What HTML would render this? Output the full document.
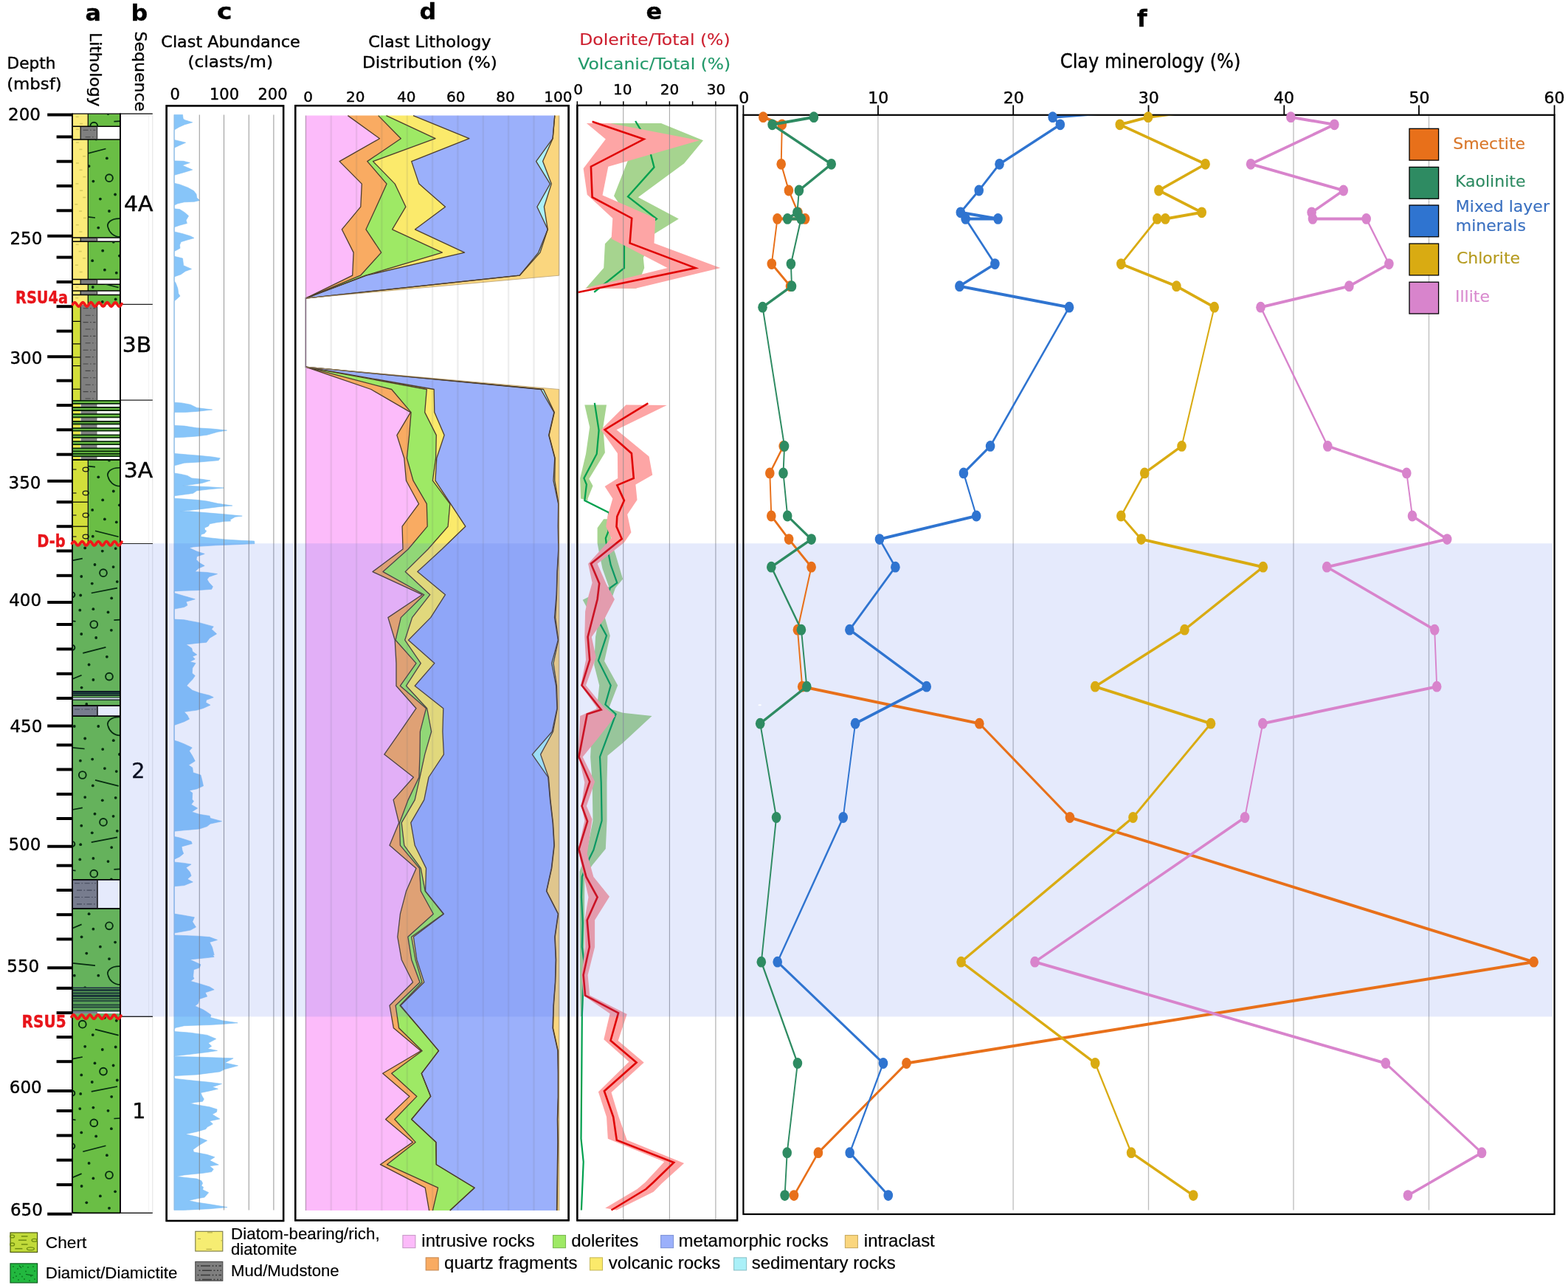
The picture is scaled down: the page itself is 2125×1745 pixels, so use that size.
<!DOCTYPE html>
<html lang="en"><head><meta charset="utf-8"><title>Core log: lithology, clast abundance and clay mineralogy</title>
<style>html,body{margin:0;padding:0;background:#fff}svg{display:block;color:#000}text{font-family:"DejaVu Sans","Liberation Sans",sans-serif;fill:currentColor;stroke:currentColor;stroke-width:.4px;stroke-linejoin:round}.ar{font-family:"Liberation Sans",sans-serif;stroke-width:.2px}</style></head><body>
<svg width="2125" height="1745" viewBox="0 0 2125 1745">
<rect width="2125" height="1745" fill="#fff"/>
<g id="litho">
<rect x="98.0" y="155.4" width="65.0" height="1487.6" fill="#fff" />
<rect x="119.3" y="154.3" width="43.7" height="17.0" fill="#6abe45" />
<rect x="119.3" y="189.1" width="43.7" height="132.8" fill="#6abe45" />
<rect x="119.3" y="327.3" width="43.7" height="51.3" fill="#6abe45" />
<rect x="119.3" y="385.3" width="43.7" height="8.7" fill="#6abe45" />
<rect x="119.3" y="399.6" width="43.7" height="13.2" fill="#6abe45" />
<rect x="119.3" y="623.0" width="43.7" height="113.5" fill="#6abe45" />
<rect x="98.0" y="736.5" width="65.0" height="199.7" fill="#6abe45" />
<rect x="98.0" y="948.0" width="65.0" height="8.0" fill="#6abe45" />
<rect x="98.0" y="970.2" width="65.0" height="221.5" fill="#6abe45" />
<rect x="98.0" y="1231.1" width="65.0" height="106.4" fill="#6abe45" />
<rect x="98.0" y="1373.0" width="65.0" height="270.0" fill="#6abe45" />
<rect x="98.0" y="154.3" width="21.3" height="17.0" fill="#fbeb79" />
<line x1="102.6" y1="158.3" x2="106.6" y2="158.3" stroke="#cfc45a" stroke-width="1.6" opacity="0.8"/><line x1="108.1" y1="167.6" x2="112.1" y2="167.6" stroke="#cfc45a" stroke-width="1.6" opacity="0.8"/>
<rect x="98.0" y="171.3" width="10.8" height="17.8" fill="#fbeb79" />
<line x1="102.9" y1="175.3" x2="106.9" y2="175.3" stroke="#cfc45a" stroke-width="1.6" opacity="0.8"/>
<rect x="98.0" y="189.1" width="21.3" height="132.8" fill="#fbeb79" />
<line x1="102.9" y1="193.1" x2="106.9" y2="193.1" stroke="#cfc45a" stroke-width="1.6" opacity="0.8"/><line x1="107.4" y1="202.4" x2="111.4" y2="202.4" stroke="#cfc45a" stroke-width="1.6" opacity="0.8"/><line x1="112.1" y1="211.7" x2="116.1" y2="211.7" stroke="#cfc45a" stroke-width="1.6" opacity="0.8"/><line x1="102.9" y1="221.0" x2="106.9" y2="221.0" stroke="#cfc45a" stroke-width="1.6" opacity="0.8"/><line x1="107.6" y1="230.3" x2="111.6" y2="230.3" stroke="#cfc45a" stroke-width="1.6" opacity="0.8"/><line x1="112.4" y1="239.6" x2="116.4" y2="239.6" stroke="#cfc45a" stroke-width="1.6" opacity="0.8"/><line x1="102.5" y1="248.9" x2="106.5" y2="248.9" stroke="#cfc45a" stroke-width="1.6" opacity="0.8"/><line x1="108.1" y1="258.2" x2="112.1" y2="258.2" stroke="#cfc45a" stroke-width="1.6" opacity="0.8"/><line x1="112.3" y1="267.5" x2="116.3" y2="267.5" stroke="#cfc45a" stroke-width="1.6" opacity="0.8"/><line x1="101.3" y1="276.8" x2="105.3" y2="276.8" stroke="#cfc45a" stroke-width="1.6" opacity="0.8"/><line x1="107.1" y1="286.1" x2="111.1" y2="286.1" stroke="#cfc45a" stroke-width="1.6" opacity="0.8"/><line x1="113.0" y1="295.4" x2="117.0" y2="295.4" stroke="#cfc45a" stroke-width="1.6" opacity="0.8"/><line x1="102.8" y1="304.7" x2="106.8" y2="304.7" stroke="#cfc45a" stroke-width="1.6" opacity="0.8"/><line x1="107.4" y1="314.0" x2="111.4" y2="314.0" stroke="#cfc45a" stroke-width="1.6" opacity="0.8"/>
<rect x="98.0" y="321.9" width="10.8" height="5.4" fill="#fbeb79" />
<rect x="98.0" y="327.3" width="21.3" height="51.3" fill="#fbeb79" />
<line x1="102.7" y1="331.3" x2="106.7" y2="331.3" stroke="#cfc45a" stroke-width="1.6" opacity="0.8"/><line x1="106.7" y1="340.6" x2="110.7" y2="340.6" stroke="#cfc45a" stroke-width="1.6" opacity="0.8"/><line x1="112.1" y1="349.9" x2="116.1" y2="349.9" stroke="#cfc45a" stroke-width="1.6" opacity="0.8"/><line x1="101.9" y1="359.2" x2="105.9" y2="359.2" stroke="#cfc45a" stroke-width="1.6" opacity="0.8"/><line x1="107.7" y1="368.5" x2="111.7" y2="368.5" stroke="#cfc45a" stroke-width="1.6" opacity="0.8"/>
<rect x="98.0" y="378.6" width="10.8" height="6.7" fill="#fbeb79" />
<rect x="98.0" y="385.3" width="21.3" height="8.7" fill="#fbeb79" />
<line x1="102.5" y1="389.3" x2="106.5" y2="389.3" stroke="#cfc45a" stroke-width="1.6" opacity="0.8"/>
<rect x="98.0" y="394.0" width="10.8" height="5.6" fill="#fbeb79" />
<rect x="98.0" y="399.6" width="21.3" height="13.2" fill="#fbeb79" />
<line x1="102.2" y1="403.6" x2="106.2" y2="403.6" stroke="#cfc45a" stroke-width="1.6" opacity="0.8"/>
<rect x="98.0" y="412.8" width="10.8" height="129.6" fill="#d3df3a" />
<rect x="98.0" y="623.0" width="20.8" height="113.5" fill="#d3df3a" />
<rect x="109.6" y="171.3" width="22.0" height="17.8" fill="#7f7f7f" />
<line x1="112.6" y1="176.3" x2="129.6" y2="176.3" stroke="#3c3c3c" stroke-width="1.1" stroke-dasharray="7 2.5 1.6 2.5" opacity="0.85"/><line x1="115.6" y1="185.7" x2="129.6" y2="185.7" stroke="#3c3c3c" stroke-width="1.1" stroke-dasharray="7 2.5 1.6 2.5" opacity="0.85"/>
<rect x="109.6" y="321.9" width="22.0" height="5.4" fill="#7f7f7f" />
<rect x="109.6" y="378.6" width="22.0" height="6.7" fill="#7f7f7f" />
<rect x="109.6" y="394.0" width="22.0" height="5.6" fill="#7f7f7f" />
<rect x="109.6" y="412.8" width="22.0" height="129.6" fill="#7f7f7f" />
<line x1="112.6" y1="417.8" x2="129.6" y2="417.8" stroke="#3c3c3c" stroke-width="1.1" stroke-dasharray="7 2.5 1.6 2.5" opacity="0.85"/><line x1="115.6" y1="427.2" x2="129.6" y2="427.2" stroke="#3c3c3c" stroke-width="1.1" stroke-dasharray="7 2.5 1.6 2.5" opacity="0.85"/><line x1="112.6" y1="436.6" x2="129.6" y2="436.6" stroke="#3c3c3c" stroke-width="1.1" stroke-dasharray="7 2.5 1.6 2.5" opacity="0.85"/><line x1="115.6" y1="446.0" x2="129.6" y2="446.0" stroke="#3c3c3c" stroke-width="1.1" stroke-dasharray="7 2.5 1.6 2.5" opacity="0.85"/><line x1="112.6" y1="455.4" x2="129.6" y2="455.4" stroke="#3c3c3c" stroke-width="1.1" stroke-dasharray="7 2.5 1.6 2.5" opacity="0.85"/><line x1="115.6" y1="464.8" x2="129.6" y2="464.8" stroke="#3c3c3c" stroke-width="1.1" stroke-dasharray="7 2.5 1.6 2.5" opacity="0.85"/><line x1="112.6" y1="474.2" x2="129.6" y2="474.2" stroke="#3c3c3c" stroke-width="1.1" stroke-dasharray="7 2.5 1.6 2.5" opacity="0.85"/><line x1="115.6" y1="483.6" x2="129.6" y2="483.6" stroke="#3c3c3c" stroke-width="1.1" stroke-dasharray="7 2.5 1.6 2.5" opacity="0.85"/><line x1="112.6" y1="493.0" x2="129.6" y2="493.0" stroke="#3c3c3c" stroke-width="1.1" stroke-dasharray="7 2.5 1.6 2.5" opacity="0.85"/><line x1="115.6" y1="502.4" x2="129.6" y2="502.4" stroke="#3c3c3c" stroke-width="1.1" stroke-dasharray="7 2.5 1.6 2.5" opacity="0.85"/><line x1="112.6" y1="511.8" x2="129.6" y2="511.8" stroke="#3c3c3c" stroke-width="1.1" stroke-dasharray="7 2.5 1.6 2.5" opacity="0.85"/><line x1="115.6" y1="521.2" x2="129.6" y2="521.2" stroke="#3c3c3c" stroke-width="1.1" stroke-dasharray="7 2.5 1.6 2.5" opacity="0.85"/><line x1="112.6" y1="530.6" x2="129.6" y2="530.6" stroke="#3c3c3c" stroke-width="1.1" stroke-dasharray="7 2.5 1.6 2.5" opacity="0.85"/><line x1="115.6" y1="540.0" x2="129.6" y2="540.0" stroke="#3c3c3c" stroke-width="1.1" stroke-dasharray="7 2.5 1.6 2.5" opacity="0.85"/>
<rect x="98.0" y="956.0" width="34.0" height="14.2" fill="#7f7f7f" />
<line x1="101.0" y1="961.0" x2="130.0" y2="961.0" stroke="#3c3c3c" stroke-width="1.1" stroke-dasharray="7 2.5 1.6 2.5" opacity="0.85"/>
<rect x="98.0" y="1191.7" width="34.0" height="39.4" fill="#7f7f7f" />
<line x1="101.0" y1="1196.7" x2="130.0" y2="1196.7" stroke="#3c3c3c" stroke-width="1.1" stroke-dasharray="7 2.5 1.6 2.5" opacity="0.85"/><line x1="104.0" y1="1206.1" x2="130.0" y2="1206.1" stroke="#3c3c3c" stroke-width="1.1" stroke-dasharray="7 2.5 1.6 2.5" opacity="0.85"/><line x1="101.0" y1="1215.5" x2="130.0" y2="1215.5" stroke="#3c3c3c" stroke-width="1.1" stroke-dasharray="7 2.5 1.6 2.5" opacity="0.85"/><line x1="104.0" y1="1224.9" x2="130.0" y2="1224.9" stroke="#3c3c3c" stroke-width="1.1" stroke-dasharray="7 2.5 1.6 2.5" opacity="0.85"/>
<clipPath id="gclip"><rect x="119.3" y="154.3" width="43.7" height="17.0"/><rect x="119.3" y="189.1" width="43.7" height="132.8"/><rect x="119.3" y="327.3" width="43.7" height="51.3"/><rect x="119.3" y="385.3" width="43.7" height="8.7"/><rect x="119.3" y="399.6" width="43.7" height="13.2"/><rect x="119.3" y="623.0" width="43.7" height="113.5"/><rect x="98.0" y="736.5" width="65.0" height="199.7"/><rect x="98.0" y="948.0" width="65.0" height="8.0"/><rect x="98.0" y="970.2" width="65.0" height="221.5"/><rect x="98.0" y="1231.1" width="65.0" height="106.4"/><rect x="98.0" y="1373.0" width="65.0" height="270.0"/></clipPath>
<rect x="98.0" y="542.4" width="65.0" height="80.6" fill="#6abe45" />
<rect x="98.0" y="546.8" width="65.0" height="5.2" fill="#fff" />
<rect x="98.0" y="546.8" width="10.8" height="5.2" fill="#e6e54a" />
<rect x="109.6" y="546.8" width="22.0" height="5.2" fill="#7f7f7f" />
<rect x="98.0" y="556.0" width="65.0" height="5.2" fill="#fff" />
<rect x="98.0" y="556.0" width="10.8" height="5.2" fill="#e6e54a" />
<rect x="109.6" y="556.0" width="22.0" height="5.2" fill="#7f7f7f" />
<rect x="98.0" y="565.3" width="65.0" height="5.7" fill="#fff" />
<rect x="98.0" y="565.3" width="10.8" height="5.7" fill="#e6e54a" />
<rect x="109.6" y="565.3" width="22.0" height="5.7" fill="#7f7f7f" />
<rect x="98.0" y="574.5" width="65.0" height="5.7" fill="#fff" />
<rect x="98.0" y="574.5" width="10.8" height="5.7" fill="#e6e54a" />
<rect x="109.6" y="574.5" width="22.0" height="5.7" fill="#7f7f7f" />
<rect x="98.0" y="583.7" width="65.0" height="5.7" fill="#fff" />
<rect x="98.0" y="583.7" width="10.8" height="5.7" fill="#e6e54a" />
<rect x="109.6" y="583.7" width="22.0" height="5.7" fill="#7f7f7f" />
<rect x="98.0" y="592.9" width="65.0" height="5.2" fill="#fff" />
<rect x="98.0" y="592.9" width="10.8" height="5.2" fill="#e6e54a" />
<rect x="109.6" y="592.9" width="22.0" height="5.2" fill="#7f7f7f" />
<rect x="98.0" y="602.1" width="65.0" height="5.2" fill="#fff" />
<rect x="98.0" y="602.1" width="10.8" height="5.2" fill="#e6e54a" />
<rect x="109.6" y="602.1" width="22.0" height="5.2" fill="#7f7f7f" />
<rect x="98.0" y="618.2" width="65.0" height="4.7" fill="#fff" />
<rect x="98.0" y="618.2" width="10.8" height="4.7" fill="#e6e54a" />
<rect x="109.6" y="618.2" width="22.0" height="4.7" fill="#7f7f7f" />
<line x1="98.0" y1="542.8" x2="163.0" y2="542.8" stroke="#0a2a0a" stroke-width="1.8"/>
<line x1="98.0" y1="546.8" x2="163.0" y2="546.8" stroke="#0a2a0a" stroke-width="1.8"/>
<line x1="98.0" y1="552.0" x2="163.0" y2="552.0" stroke="#0a2a0a" stroke-width="1.8"/>
<line x1="98.0" y1="556.0" x2="163.0" y2="556.0" stroke="#0a2a0a" stroke-width="1.8"/>
<line x1="98.0" y1="561.2" x2="163.0" y2="561.2" stroke="#0a2a0a" stroke-width="1.8"/>
<line x1="98.0" y1="565.3" x2="163.0" y2="565.3" stroke="#0a2a0a" stroke-width="1.8"/>
<line x1="98.0" y1="571.0" x2="163.0" y2="571.0" stroke="#0a2a0a" stroke-width="1.8"/>
<line x1="98.0" y1="574.5" x2="163.0" y2="574.5" stroke="#0a2a0a" stroke-width="1.8"/>
<line x1="98.0" y1="580.2" x2="163.0" y2="580.2" stroke="#0a2a0a" stroke-width="1.8"/>
<line x1="98.0" y1="583.7" x2="163.0" y2="583.7" stroke="#0a2a0a" stroke-width="1.8"/>
<line x1="98.0" y1="589.4" x2="163.0" y2="589.4" stroke="#0a2a0a" stroke-width="1.8"/>
<line x1="98.0" y1="592.9" x2="163.0" y2="592.9" stroke="#0a2a0a" stroke-width="1.8"/>
<line x1="98.0" y1="598.1" x2="163.0" y2="598.1" stroke="#0a2a0a" stroke-width="1.8"/>
<line x1="98.0" y1="602.1" x2="163.0" y2="602.1" stroke="#0a2a0a" stroke-width="1.8"/>
<line x1="98.0" y1="607.3" x2="163.0" y2="607.3" stroke="#0a2a0a" stroke-width="1.8"/>
<line x1="98.0" y1="611.3" x2="163.0" y2="611.3" stroke="#0a2a0a" stroke-width="1.8"/>
<line x1="98.0" y1="614.8" x2="163.0" y2="614.8" stroke="#0a2a0a" stroke-width="1.8"/>
<line x1="98.0" y1="618.2" x2="163.0" y2="618.2" stroke="#0a2a0a" stroke-width="1.8"/>
<line x1="98.0" y1="622.9" x2="163.0" y2="622.9" stroke="#0a2a0a" stroke-width="1.8"/>
<rect x="98.0" y="936.2" width="65.0" height="12.0" fill="#6abe45" />
<rect x="98.0" y="937.0" width="65.0" height="4.4" fill="#12301a" />
<line x1="98.0" y1="936.6" x2="163.0" y2="936.6" stroke="#000" stroke-width="1.3"/>
<line x1="98.0" y1="942.3" x2="163.0" y2="942.3" stroke="#000" stroke-width="1.3"/>
<line x1="98.0" y1="945.4" x2="163.0" y2="945.4" stroke="#000" stroke-width="1.2"/>
<rect x="98.0" y="945.6" width="65.0" height="2.2" fill="#fff" />
<line x1="98.0" y1="948.2" x2="163.0" y2="948.2" stroke="#000" stroke-width="1.3"/>
<line x1="98.0" y1="956.0" x2="163.0" y2="956.0" stroke="#000" stroke-width="1.5"/>
<line x1="98.0" y1="970.2" x2="163.0" y2="970.2" stroke="#000" stroke-width="1.5"/>
<rect x="98.0" y="1337.5" width="65.0" height="35.5" fill="#5aa53e" />
<line x1="98.0" y1="1338.3" x2="163.0" y2="1338.3" stroke="#10281a" stroke-width="1.6"/>
<line x1="98.0" y1="1341.5" x2="163.0" y2="1341.5" stroke="#10281a" stroke-width="2.5"/>
<line x1="98.0" y1="1345.5" x2="163.0" y2="1345.5" stroke="#10281a" stroke-width="2.2"/>
<line x1="98.0" y1="1349.3" x2="163.0" y2="1349.3" stroke="#10281a" stroke-width="3"/>
<line x1="98.0" y1="1353.0" x2="163.0" y2="1353.0" stroke="#10281a" stroke-width="1.4"/>
<line x1="98.0" y1="1356.0" x2="163.0" y2="1356.0" stroke="#10281a" stroke-width="1.4"/>
<line x1="98.0" y1="1361.5" x2="163.0" y2="1361.5" stroke="#10281a" stroke-width="1.6"/>
<line x1="98.0" y1="1364.5" x2="163.0" y2="1364.5" stroke="#10281a" stroke-width="1.4"/>
<line x1="98.0" y1="1369.8" x2="163.0" y2="1369.8" stroke="#10281a" stroke-width="1.6"/>
<rect x="98.0" y="1370.6" width="65.0" height="2.6" fill="#fff" />
<rect x="98.0" y="1370.6" width="34.0" height="2.6" fill="#7f7f7f" />
<line x1="98.0" y1="171.3" x2="163.0" y2="171.3" stroke="#000" stroke-width="1.5"/>
<line x1="98.0" y1="189.1" x2="163.0" y2="189.1" stroke="#000" stroke-width="1.5"/>
<line x1="98.0" y1="321.9" x2="163.0" y2="321.9" stroke="#000" stroke-width="1.5"/>
<line x1="98.0" y1="327.3" x2="163.0" y2="327.3" stroke="#000" stroke-width="1.5"/>
<line x1="98.0" y1="378.6" x2="163.0" y2="378.6" stroke="#000" stroke-width="1.5"/>
<line x1="98.0" y1="385.3" x2="163.0" y2="385.3" stroke="#000" stroke-width="1.5"/>
<line x1="98.0" y1="394.0" x2="163.0" y2="394.0" stroke="#000" stroke-width="1.5"/>
<line x1="98.0" y1="399.6" x2="163.0" y2="399.6" stroke="#000" stroke-width="1.5"/>
<line x1="98.0" y1="1191.7" x2="163.0" y2="1191.7" stroke="#000" stroke-width="1.5"/>
<line x1="98.0" y1="1231.1" x2="163.0" y2="1231.1" stroke="#000" stroke-width="1.5"/>
<line x1="98.0" y1="623.0" x2="163.0" y2="623.0" stroke="#000" stroke-width="1.5"/>
<line x1="98.0" y1="435.4" x2="108.8" y2="435.4" stroke="#000" stroke-width="1.2"/>
<line x1="98.0" y1="465.9" x2="108.8" y2="465.9" stroke="#000" stroke-width="1.2"/>
<line x1="98.0" y1="484.0" x2="108.8" y2="484.0" stroke="#000" stroke-width="1.2"/>
<line x1="98.0" y1="495.6" x2="108.8" y2="495.6" stroke="#000" stroke-width="1.2"/>
<line x1="98.0" y1="527.2" x2="108.8" y2="527.2" stroke="#000" stroke-width="1.2"/>
<line x1="98.0" y1="680.2" x2="118.8" y2="680.2" stroke="#000" stroke-width="1.2"/>
<line x1="98.0" y1="713.2" x2="118.8" y2="713.2" stroke="#000" stroke-width="1.2"/>
<ellipse cx="116.2" cy="636" rx="4" ry="2.8" fill="none" stroke="#1a1a1a" stroke-width="1.2"/>
<line x1="98.5" y1="636" x2="103.5" y2="636" stroke="#1a1a1a" stroke-width="1.2"/>
<ellipse cx="116.2" cy="668" rx="4" ry="2.8" fill="none" stroke="#1a1a1a" stroke-width="1.2"/>
<line x1="98.5" y1="668" x2="103.5" y2="668" stroke="#1a1a1a" stroke-width="1.2"/>
<ellipse cx="116.2" cy="698" rx="4" ry="2.8" fill="none" stroke="#1a1a1a" stroke-width="1.2"/>
<line x1="98.5" y1="698" x2="103.5" y2="698" stroke="#1a1a1a" stroke-width="1.2"/>
<ellipse cx="116.2" cy="727" rx="4" ry="2.8" fill="none" stroke="#1a1a1a" stroke-width="1.2"/>
<line x1="98.5" y1="727" x2="103.5" y2="727" stroke="#1a1a1a" stroke-width="1.2"/>
<line x1="119.3" y1="154.3" x2="119.3" y2="171.3" stroke="#000" stroke-width="1.2"/>
<line x1="119.3" y1="189.1" x2="119.3" y2="321.9" stroke="#000" stroke-width="1.2"/>
<line x1="119.3" y1="327.3" x2="119.3" y2="378.6" stroke="#000" stroke-width="1.2"/>
<line x1="119.3" y1="385.3" x2="119.3" y2="394.0" stroke="#000" stroke-width="1.2"/>
<line x1="119.3" y1="399.6" x2="119.3" y2="412.8" stroke="#000" stroke-width="1.2"/>
<line x1="119.3" y1="623.0" x2="119.3" y2="736.5" stroke="#000" stroke-width="1.2"/>
<line x1="109.2" y1="171.3" x2="109.2" y2="189.1" stroke="#000" stroke-width="1.2"/>
<line x1="131.6" y1="171.3" x2="131.6" y2="189.1" stroke="#333" stroke-width="1.2"/>
<line x1="109.2" y1="321.9" x2="109.2" y2="327.3" stroke="#000" stroke-width="1.2"/>
<line x1="131.6" y1="321.9" x2="131.6" y2="327.3" stroke="#333" stroke-width="1.2"/>
<line x1="109.2" y1="378.6" x2="109.2" y2="385.3" stroke="#000" stroke-width="1.2"/>
<line x1="131.6" y1="378.6" x2="131.6" y2="385.3" stroke="#333" stroke-width="1.2"/>
<line x1="109.2" y1="394.0" x2="109.2" y2="399.6" stroke="#000" stroke-width="1.2"/>
<line x1="131.6" y1="394.0" x2="131.6" y2="399.6" stroke="#333" stroke-width="1.2"/>
<line x1="109.2" y1="412.8" x2="109.2" y2="542.4" stroke="#000" stroke-width="1.2"/>
<line x1="131.6" y1="412.8" x2="131.6" y2="542.4" stroke="#333" stroke-width="1.2"/>
<line x1="132.0" y1="956.0" x2="132.0" y2="970.2" stroke="#222" stroke-width="1.3"/>
<line x1="132.0" y1="1191.7" x2="132.0" y2="1231.1" stroke="#222" stroke-width="1.3"/>
</g>
<g id="seq">
<line x1="206.8" y1="155.4" x2="206.8" y2="1643.0" stroke="#e2e2e2" stroke-width="1"/>
<line x1="201.5" y1="155.4" x2="201.5" y2="1643.0" stroke="#f0f0f0" stroke-width="0.8"/>
<line x1="98.0" y1="154.1" x2="206.8" y2="154.1" stroke="#000" stroke-width="1.3"/>
<line x1="163.0" y1="412.3" x2="206.8" y2="412.3" stroke="#222" stroke-width="1.2"/>
<line x1="163.0" y1="542.2" x2="206.8" y2="542.2" stroke="#222" stroke-width="1.2"/>
<line x1="163.0" y1="736.5" x2="206.8" y2="736.5" stroke="#222" stroke-width="1.2"/>
<line x1="163.0" y1="1377.4" x2="206.8" y2="1377.4" stroke="#222" stroke-width="1.2"/>
<line x1="98.0" y1="1643.3" x2="163.0" y2="1643.3" stroke="#000" stroke-width="1.8"/>
<line x1="163.0" y1="1643.3" x2="206.8" y2="1643.3" stroke="#000" stroke-width="1.3"/>
<text x="187.8" y="285.6" font-size="28.5" text-anchor="middle" textLength="39.5" lengthAdjust="spacingAndGlyphs">4A</text>
<text x="185.6" y="476.5" font-size="28.5" text-anchor="middle" textLength="39.5" lengthAdjust="spacingAndGlyphs">3B</text>
<text x="187.5" y="646.7" font-size="28.5" text-anchor="middle" textLength="39.5" lengthAdjust="spacingAndGlyphs">3A</text>
<text x="187.2" y="1053.7" font-size="28.5" text-anchor="middle">2</text>
<text x="188.2" y="1515" font-size="28.5" text-anchor="middle">1</text>
</g>
<g id="depth" stroke="#000" stroke-width="4">
<line x1="64.2" y1="155.4" x2="97.6" y2="155.4"/>
<line x1="64.2" y1="319.8" x2="97.6" y2="319.8"/>
<line x1="64.2" y1="483.3" x2="97.6" y2="483.3"/>
<line x1="64.2" y1="651.7" x2="97.6" y2="651.7"/>
<line x1="64.2" y1="816.1" x2="97.6" y2="816.1"/>
<line x1="64.2" y1="983.4" x2="97.6" y2="983.4"/>
<line x1="64.2" y1="1146.7" x2="97.6" y2="1146.7"/>
<line x1="64.2" y1="1311.2" x2="97.6" y2="1311.2"/>
<line x1="64.2" y1="1477.9" x2="97.6" y2="1477.9"/>
<line x1="64.2" y1="1644.7" x2="97.6" y2="1644.7"/>
<line x1="76.6" y1="185.4" x2="97.6" y2="185.4"/>
<line x1="76.6" y1="218.7" x2="97.6" y2="218.7"/>
<line x1="76.6" y1="251.9" x2="97.6" y2="251.9"/>
<line x1="76.6" y1="285.3" x2="97.6" y2="285.3"/>
<line x1="76.6" y1="348.6" x2="97.6" y2="348.6"/>
<line x1="76.6" y1="382" x2="97.6" y2="382"/>
<line x1="76.6" y1="415.2" x2="97.6" y2="415.2"/>
<line x1="76.6" y1="448.6" x2="97.6" y2="448.6"/>
<line x1="76.6" y1="515.7" x2="97.6" y2="515.7"/>
<line x1="76.6" y1="549.1" x2="97.6" y2="549.1"/>
<line x1="76.6" y1="582.3" x2="97.6" y2="582.3"/>
<line x1="76.6" y1="615.7" x2="97.6" y2="615.7"/>
<line x1="76.6" y1="680.2" x2="97.6" y2="680.2"/>
<line x1="76.6" y1="713.2" x2="97.6" y2="713.2"/>
<line x1="76.6" y1="746.4" x2="97.6" y2="746.4"/>
<line x1="76.6" y1="779.8" x2="97.6" y2="779.8"/>
<line x1="76.6" y1="846" x2="97.6" y2="846"/>
<line x1="76.6" y1="879.4" x2="97.6" y2="879.4"/>
<line x1="76.6" y1="912.8" x2="97.6" y2="912.8"/>
<line x1="76.6" y1="946" x2="97.6" y2="946"/>
<line x1="76.6" y1="1009.4" x2="97.6" y2="1009.4"/>
<line x1="76.6" y1="1042.5" x2="97.6" y2="1042.5"/>
<line x1="76.6" y1="1075.9" x2="97.6" y2="1075.9"/>
<line x1="76.6" y1="1109" x2="97.6" y2="1109"/>
<line x1="76.6" y1="1172.7" x2="97.6" y2="1172.7"/>
<line x1="76.6" y1="1206" x2="97.6" y2="1206"/>
<line x1="76.6" y1="1239.2" x2="97.6" y2="1239.2"/>
<line x1="76.6" y1="1272.4" x2="97.6" y2="1272.4"/>
<line x1="76.6" y1="1338.8" x2="97.6" y2="1338.8"/>
<line x1="76.6" y1="1372.2" x2="97.6" y2="1372.2"/>
<line x1="76.6" y1="1405.1" x2="97.6" y2="1405.1"/>
<line x1="76.6" y1="1438.2" x2="97.6" y2="1438.2"/>
<line x1="76.6" y1="1505" x2="97.6" y2="1505"/>
<line x1="76.6" y1="1538.4" x2="97.6" y2="1538.4"/>
<line x1="76.6" y1="1571.7" x2="97.6" y2="1571.7"/>
<line x1="76.6" y1="1605.1" x2="97.6" y2="1605.1"/>
</g>
<text x="55.0" y="163.2" font-size="23" text-anchor="end">200</text>
<text x="57.3" y="331" font-size="23" text-anchor="end">250</text>
<text x="57.3" y="492.9" font-size="23" text-anchor="end">300</text>
<text x="55.5" y="662" font-size="23" text-anchor="end">350</text>
<text x="56.1" y="821" font-size="23" text-anchor="end">400</text>
<text x="57.3" y="991.8" font-size="23" text-anchor="end">450</text>
<text x="55.3" y="1152.2" font-size="23" text-anchor="end">500</text>
<text x="53.199999999999996" y="1316.6" font-size="23" text-anchor="end">550</text>
<text x="56.699999999999996" y="1480.5" font-size="23" text-anchor="end">600</text>
<text x="57.9" y="1646.7" font-size="23" text-anchor="end">650</text>
<g id="pc">
<polygon points="236.1,155.4 236.1,155.4 247.5,155.4 248.2,160.9 250.4,162.6 260.8,165.8 250.4,168.7 242.6,172.2 236.1,176.1 236.1,189.4 251.6,193.2 242.6,197.2 236.1,200.3 236.1,217.9 248.7,218.3 257.3,220.5 247.0,224.0 260.8,230.0 249.6,233.5 236.1,237.3 236.1,248.2 243.5,249.9 254.7,254.2 262.5,258.6 266.0,262.9 266.8,268.1 270.6,271.5 263.4,273.2 249.6,273.8 240.9,275.8 236.1,278.1 236.1,282.8 243.5,283.6 250.4,287.9 255.6,292.6 252.2,298.3 253.4,302.6 243.5,305.2 236.1,307.8 236.1,313.9 247.0,316.5 258.2,319.9 263.0,322.5 253.9,325.1 245.2,327.7 243.5,332.0 244.0,336.3 239.2,338.9 236.1,340.6 236.1,347.2 247.5,350.1 248.7,359.7 259.6,364.5 251.3,367.4 245.2,371.8 236.1,374.9 236.1,380.4 238.3,383.8 240.9,390.8 241.8,397.7 244.0,401.1 239.2,405.4 236.1,408.0 236.1,545.3 246.1,545.9 258.2,548.2 266.8,552.5 287.6,555.1 266.8,557.4 249.6,558.6 236.1,558.6 236.1,576.4 249.6,577.1 266.8,579.8 287.6,581.0 307.5,583.1 294.5,585.3 280.7,589.3 266.8,591.0 249.6,592.3 236.1,592.8 236.1,614.4 249.6,615.6 270.3,617.3 287.6,619.0 298.3,620.8 296.2,623.7 270.3,626.0 249.6,627.2 238.3,630.3 236.1,630.6 236.1,641.0 245.2,642.4 253.9,644.4 259.9,647.9 273.8,649.3 285.0,651.0 273.8,654.5 256.5,657.1 247.8,657.9 258.2,658.4 284.1,659.7 303.1,661.0 284.1,662.8 266.8,664.8 261.7,668.3 249.6,670.0 236.1,671.8 236.1,675.2 249.6,676.1 266.8,677.3 280.7,679.0 294.5,682.1 314.9,685.1 297.9,686.4 270.3,689.9 254.7,691.6 244.4,692.8 256.5,692.8 284.1,695.1 304.9,696.8 328.2,699.1 318.7,700.3 311.8,704.2 312.6,706.0 304.9,706.3 292.8,708.0 284.1,709.8 282.4,712.9 277.2,715.0 277.6,718.1 279.8,719.3 277.2,722.7 272.9,723.9 272.0,727.1 284.1,728.8 304.9,730.9 327.3,732.3 344.6,733.1 345.0,736.6 318.7,737.8 292.8,738.8 272.0,740.1 261.7,740.9 256.5,742.3 266.8,747.0 277.2,750.4 266.8,753.9 266.0,758.2 270.3,762.5 277.2,766.5 268.6,770.3 264.3,774.6 280.7,775.5 294.5,777.6 283.3,781.5 280.7,785.0 283.3,789.3 288.4,794.8 286.7,798.3 266.8,799.7 249.6,800.2 236.1,800.9 236.1,803.5 249.6,807.5 264.3,811.8 252.2,815.2 253.9,820.1 249.6,822.5 236.1,825.1 236.1,839.1 249.6,839.8 270.3,843.7 289.3,848.9 286.7,852.4 293.6,858.8 284.1,864.5 279.8,870.2 266.8,871.4 252.2,873.1 259.9,878.3 260.8,882.6 266.8,886.9 260.8,889.5 264.3,893.0 257.3,896.5 265.1,898.5 260.8,905.1 260.3,912.0 264.3,915.5 260.8,920.6 256.5,925.0 253.0,928.9 260.8,935.3 270.3,938.8 284.1,942.2 289.3,944.8 279.8,948.3 278.9,951.8 285.0,955.2 275.5,959.5 266.8,962.1 249.6,964.4 253.9,969.0 256.5,974.2 249.6,977.7 236.1,982.5 236.1,1003.2 240.9,1004.5 249.6,1007.9 249.6,1007.9 260.3,1013.0 256.5,1017.3 260.8,1024.2 264.3,1031.1 255.6,1036.6 260.8,1040.1 261.7,1046.7 272.0,1050.1 273.8,1057.0 275.5,1064.8 266.8,1068.8 256.5,1070.9 260.8,1074.3 260.3,1082.9 262.5,1085.5 259.1,1089.9 267.7,1095.0 259.9,1099.9 270.3,1103.3 284.1,1105.4 285.0,1108.5 300.5,1112.7 285.0,1116.1 280.7,1119.6 270.3,1123.0 249.6,1124.8 236.1,1126.2 236.1,1133.4 242.6,1134.8 259.1,1140.0 260.3,1143.1 246.1,1146.9 247.0,1152.1 248.7,1156.4 243.5,1160.7 236.1,1164.2 236.1,1168.0 249.6,1169.4 259.1,1171.1 252.2,1175.4 257.3,1181.5 259.1,1186.6 253.9,1191.0 261.3,1194.9 249.6,1199.6 236.1,1200.8 236.1,1238.1 249.6,1240.2 263.4,1242.8 260.8,1248.8 265.5,1256.1 258.2,1260.1 236.1,1264.1 236.1,1267.0 266.8,1268.2 284.1,1269.6 294.5,1273.4 284.1,1276.5 287.6,1283.4 290.2,1293.8 288.4,1293.8 290.2,1296.4 280.7,1297.6 266.8,1299.0 257.3,1299.9 272.0,1306.8 270.3,1311.1 262.5,1313.7 261.7,1323.2 263.0,1325.8 258.2,1329.3 270.3,1332.7 284.1,1337.0 290.2,1340.8 278.1,1344.8 280.7,1350.0 270.3,1353.4 268.6,1359.5 264.3,1362.9 275.5,1368.1 279.8,1370.7 285.9,1375.0 285.0,1378.5 301.4,1382.8 322.1,1385.8 301.4,1387.5 284.1,1388.5 249.6,1389.7 238.3,1392.3 236.1,1394.1 236.1,1397.5 258.2,1399.2 280.7,1402.4 292.8,1407.5 282.4,1413.1 286.7,1417.4 281.5,1420.8 294.5,1423.4 280.7,1425.5 258.2,1428.3 240.9,1430.3 236.1,1430.9 236.1,1431.4 266.8,1432.1 292.8,1432.9 316.1,1433.8 304.9,1439.9 322.5,1443.8 304.9,1448.5 297.9,1451.9 266.8,1455.9 236.1,1457.6 236.1,1460.6 238.3,1461.5 266.8,1464.6 284.1,1466.3 300.5,1468.4 287.6,1472.7 295.4,1475.3 284.1,1477.9 272.0,1480.5 273.8,1484.8 276.3,1489.1 274.6,1492.2 264.3,1493.4 257.3,1495.1 270.3,1497.4 284.1,1499.8 294.1,1502.9 293.6,1506.4 287.6,1509.8 297.9,1515.9 284.1,1518.8 288.4,1522.8 280.7,1527.1 278.9,1529.7 266.8,1533.2 251.3,1536.6 266.8,1540.1 280.7,1545.3 270.3,1551.3 261.7,1557.4 262.5,1560.8 280.7,1564.3 291.0,1567.7 284.1,1572.1 296.2,1578.1 284.1,1579.8 289.3,1584.1 286.7,1587.6 275.5,1589.3 249.6,1591.9 239.2,1594.0 266.8,1597.1 272.9,1599.7 274.6,1603.1 272.9,1606.6 275.5,1608.3 274.6,1611.8 282.7,1615.7 277.2,1622.1 266.8,1623.9 255.6,1626.5 266.8,1629.0 284.1,1631.6 308.0,1635.6 284.1,1637.7 249.6,1639.4 236.1,1639.4 236.1,1639.4" fill="#87c5f9" stroke="#7fbdf2" stroke-width="0.6"/>
<line x1="236.1" y1="155.4" x2="236.1" y2="1639.4" stroke="#8db6dc" stroke-opacity="0.75" stroke-width="1.1"/>
<line x1="270.3" y1="155.4" x2="270.3" y2="1639.4" stroke="#7d7d7d" stroke-opacity="0.75" stroke-width="1.1"/>
<line x1="303.5" y1="155.4" x2="303.5" y2="1639.4" stroke="#7d7d7d" stroke-opacity="0.75" stroke-width="1.1"/>
<line x1="337.3" y1="155.4" x2="337.3" y2="1639.4" stroke="#7d7d7d" stroke-opacity="0.75" stroke-width="1.1"/>
<line x1="370.9" y1="155.4" x2="370.9" y2="1639.4" stroke="#7d7d7d" stroke-opacity="0.75" stroke-width="1.1"/>
<rect x="225.7" y="143.3" width="158.4" height="1510.7" fill="none" stroke="#000" stroke-width="2.3"/>
<text x="237.1" y="135.2" font-size="21" text-anchor="middle">0</text>
<text x="304" y="135.2" font-size="21" text-anchor="middle">100</text>
<text x="369.5" y="135.2" font-size="21" text-anchor="middle">200</text>
</g>
<g id="pd">
<polygon points="414.4,156.6 414.4,187.7 414.4,218.6 414.4,249.1 414.4,280.2 414.4,310.8 414.4,342.1 414.4,373.2 414.4,404.1 414.4,404.1 477.7,373.2 479.1,342.1 463.3,310.8 488.8,280.2 490.3,249.1 460.1,218.6 514.5,187.7 471.4,156.6" fill="#fcbbfa" stroke="none"/>
<polygon points="471.4,156.6 514.5,187.7 460.1,218.6 490.3,249.1 488.8,280.2 463.3,310.8 479.1,342.1 477.7,373.2 414.4,404.1 414.4,404.1 488.5,373.2 516.7,342.1 496.0,310.8 510.0,280.2 524.1,249.1 497.8,218.6 543.3,187.7 512.7,156.6" fill="#f9ab62" stroke="none"/>
<polygon points="512.7,156.6 543.3,187.7 497.8,218.6 524.1,249.1 510.0,280.2 496.0,310.8 516.7,342.1 488.5,373.2 414.4,404.1 414.4,404.1 495.7,373.2 599.4,342.1 531.6,310.8 549.9,280.2 535.2,249.1 505.5,218.6 590.0,187.7 523.5,156.6" fill="#9ee965" stroke="none"/>
<polygon points="523.5,156.6 590.0,187.7 505.5,218.6 535.2,249.1 549.9,280.2 531.6,310.8 599.4,342.1 495.7,373.2 414.4,404.1 414.4,404.1 496.6,373.2 629.6,342.1 562.5,310.8 603.5,280.2 567.9,249.1 557.7,218.6 635.9,187.7 560.0,156.6" fill="#fbea6b" stroke="none"/>
<polygon points="560.0,156.6 635.9,187.7 557.7,218.6 567.9,249.1 603.5,280.2 562.5,310.8 629.6,342.1 496.6,373.2 414.4,404.1 414.4,404.1 704.2,373.2 729.7,342.1 742.3,310.8 727.9,280.2 745.5,249.1 726.6,218.6 749.1,187.7 751.8,156.6" fill="#9bb0fb" stroke="none"/>
<polygon points="751.8,156.6 749.1,187.7 726.6,218.6 745.5,249.1 727.9,280.2 742.3,310.8 729.7,342.1 704.2,373.2 414.4,404.1 414.4,404.1 704.2,373.2 732.0,342.1 742.3,310.8 737.4,280.2 747.3,249.1 735.6,218.6 749.1,187.7 751.8,156.6" fill="#aaf0f8" stroke="none"/>
<polygon points="751.8,156.6 749.1,187.7 735.6,218.6 747.3,249.1 737.4,280.2 742.3,310.8 732.0,342.1 704.2,373.2 414.4,404.1 414.4,404.1 757.7,373.2 757.7,342.1 757.7,310.8 757.7,280.2 757.7,249.1 757.7,218.6 757.7,187.7 757.7,156.6" fill="#fad67e" stroke="none"/>
<polyline points="471.4,156.6 514.5,187.7 460.1,218.6 490.3,249.1 488.8,280.2 463.3,310.8 479.1,342.1 477.7,373.2 414.4,404.1" fill="none" stroke="#4d3d2c" stroke-width="1.3" stroke-linejoin="round"/>
<polyline points="512.7,156.6 543.3,187.7 497.8,218.6 524.1,249.1 510.0,280.2 496.0,310.8 516.7,342.1 488.5,373.2 414.4,404.1" fill="none" stroke="#4d3d2c" stroke-width="1.3" stroke-linejoin="round"/>
<polyline points="523.5,156.6 590.0,187.7 505.5,218.6 535.2,249.1 549.9,280.2 531.6,310.8 599.4,342.1 495.7,373.2 414.4,404.1" fill="none" stroke="#4d3d2c" stroke-width="1.3" stroke-linejoin="round"/>
<polyline points="560.0,156.6 635.9,187.7 557.7,218.6 567.9,249.1 603.5,280.2 562.5,310.8 629.6,342.1 496.6,373.2 414.4,404.1" fill="none" stroke="#4d3d2c" stroke-width="1.3" stroke-linejoin="round"/>
<polyline points="751.8,156.6 749.1,187.7 726.6,218.6 745.5,249.1 727.9,280.2 742.3,310.8 729.7,342.1 704.2,373.2 414.4,404.1" fill="none" stroke="#4d3d2c" stroke-width="1.3" stroke-linejoin="round"/>
<polyline points="751.8,156.6 749.1,187.7 735.6,218.6 747.3,249.1 737.4,280.2 742.3,310.8 732.0,342.1 704.2,373.2 414.4,404.1" fill="none" stroke="#4d3d2c" stroke-width="1.3" stroke-linejoin="round"/>
<polyline points="757.7,156.6 757.7,187.7 757.7,218.6 757.7,249.1 757.7,280.2 757.7,310.8 757.7,342.1 757.7,373.2 414.4,404.1" fill="none" stroke="#b9a27a" stroke-width="0.8" stroke-linejoin="round"/>
<polygon points="414.4,497.2 414.4,527.5 414.4,558.6 414.4,589.6 414.4,620.7 414.4,651.2 414.4,682.7 414.4,713.2 414.4,744.0 414.4,774.6 414.4,805.7 414.4,836.6 414.4,867.2 414.4,898.6 414.4,929.2 414.4,959.7 414.4,991.2 414.4,1022.1 414.4,1053.0 414.4,1083.6 414.4,1114.7 414.4,1145.3 414.4,1176.4 414.4,1207.3 414.4,1238.2 414.4,1269.3 414.4,1300.2 414.4,1330.8 414.4,1362.2 414.4,1392.8 414.4,1423.7 414.4,1454.3 414.4,1485.4 414.4,1516.5 414.4,1547.4 414.4,1577.7 414.4,1609.2 414.4,1640.1 581.6,1640.1 576.2,1609.2 515.4,1577.7 559.5,1547.4 522.6,1516.5 555.0,1485.4 518.7,1454.3 570.3,1423.7 533.4,1392.8 528.0,1362.2 559.5,1330.8 544.2,1300.2 538.8,1269.3 542.4,1238.2 550.5,1207.3 564.0,1176.4 528.0,1145.3 540.6,1114.7 533.1,1083.6 560.4,1053.0 520.8,1022.1 542.4,991.2 564.0,959.7 537.0,929.2 537.0,898.6 535.2,867.2 525.9,836.6 572.1,805.7 505.0,774.6 546.0,744.0 545.1,713.2 567.6,682.7 550.5,651.2 547.8,620.7 537.9,589.6 556.4,558.6 502.9,527.5 414.4,497.2" fill="#fcbbfa" stroke="none"/>
<polygon points="414.4,497.2 502.9,527.5 556.4,558.6 537.9,589.6 547.8,620.7 550.5,651.2 567.6,682.7 545.1,713.2 546.0,744.0 505.0,774.6 572.1,805.7 525.9,836.6 535.2,867.2 537.0,898.6 537.0,929.2 564.0,959.7 542.4,991.2 520.8,1022.1 560.4,1053.0 533.1,1083.6 540.6,1114.7 528.0,1145.3 564.0,1176.4 550.5,1207.3 542.4,1238.2 538.8,1269.3 544.2,1300.2 559.5,1330.8 528.0,1362.2 533.4,1392.8 570.3,1423.7 518.7,1454.3 555.0,1485.4 522.6,1516.5 559.5,1547.4 515.4,1577.7 576.2,1609.2 581.6,1640.1 586.4,1640.1 593.6,1609.2 524.4,1577.7 563.1,1547.4 534.8,1516.5 564.9,1485.4 530.7,1454.3 572.1,1423.7 540.6,1392.8 536.1,1362.2 569.0,1330.8 557.7,1300.2 552.8,1269.3 587.3,1238.2 570.3,1207.3 568.5,1176.4 542.4,1145.3 541.5,1114.7 553.2,1083.6 567.9,1053.0 569.0,1022.1 569.4,991.2 577.5,959.7 542.4,929.2 564.0,898.6 536.1,867.2 543.3,836.6 574.8,805.7 519.0,774.6 553.2,744.0 579.2,713.2 578.3,682.7 560.0,651.2 551.4,620.7 554.6,589.6 557.1,558.6 530.7,527.5 414.4,497.2" fill="#f9ab62" stroke="none"/>
<polygon points="414.4,497.2 530.7,527.5 557.1,558.6 554.6,589.6 551.4,620.7 560.0,651.2 578.3,682.7 579.2,713.2 553.2,744.0 519.0,774.6 574.8,805.7 543.3,836.6 536.1,867.2 564.0,898.6 542.4,929.2 577.5,959.7 569.4,991.2 569.0,1022.1 567.9,1053.0 553.2,1083.6 541.5,1114.7 542.4,1145.3 568.5,1176.4 570.3,1207.3 587.3,1238.2 552.8,1269.3 557.7,1300.2 569.0,1330.8 536.1,1362.2 540.6,1392.8 572.1,1423.7 530.7,1454.3 564.9,1485.4 534.8,1516.5 563.1,1547.4 524.4,1577.7 593.6,1609.2 586.4,1640.1 609.8,1640.1 643.1,1609.2 591.3,1577.7 590.9,1547.4 557.7,1516.5 583.7,1485.4 571.2,1454.3 594.5,1423.7 568.5,1392.8 542.0,1362.2 572.1,1330.8 563.1,1300.2 557.7,1269.3 600.8,1238.2 576.2,1207.3 570.3,1176.4 547.8,1145.3 544.2,1114.7 562.2,1083.6 569.0,1053.0 575.7,1022.1 584.6,991.2 578.7,959.7 550.5,929.2 570.3,898.6 548.7,867.2 558.6,836.6 582.8,805.7 549.2,774.6 580.1,744.0 607.1,713.2 609.8,682.7 586.4,651.2 590.6,620.7 591.3,589.6 575.7,558.6 578.3,527.5 414.4,497.2" fill="#9ee965" stroke="none"/>
<polygon points="414.4,497.2 578.3,527.5 575.7,558.6 591.3,589.6 590.6,620.7 586.4,651.2 609.8,682.7 607.1,713.2 580.1,744.0 549.2,774.6 582.8,805.7 558.6,836.6 548.7,867.2 570.3,898.6 550.5,929.2 578.7,959.7 584.6,991.2 575.7,1022.1 569.0,1053.0 562.2,1083.6 544.2,1114.7 547.8,1145.3 570.3,1176.4 576.2,1207.3 600.8,1238.2 557.7,1269.3 563.1,1300.2 572.1,1330.8 542.0,1362.2 568.5,1392.8 594.5,1423.7 571.2,1454.3 583.7,1485.4 557.7,1516.5 590.9,1547.4 591.3,1577.7 643.1,1609.2 609.8,1640.1 609.8,1640.1 643.1,1609.2 591.3,1577.7 590.9,1547.4 557.7,1516.5 583.7,1485.4 571.2,1454.3 594.5,1423.7 568.5,1392.8 542.8,1362.2 574.8,1330.8 564.9,1300.2 560.4,1269.3 601.4,1238.2 576.6,1207.3 577.5,1176.4 562.2,1145.3 556.8,1114.7 574.8,1083.6 581.0,1053.0 601.4,1022.1 599.9,991.2 600.8,959.7 562.2,929.2 588.8,898.6 553.5,867.2 583.7,836.6 603.5,805.7 565.8,774.6 599.0,744.0 630.8,713.2 610.7,682.7 590.0,651.2 591.8,620.7 602.1,589.6 588.8,558.6 588.2,527.5 414.4,497.2" fill="#fbea6b" stroke="none"/>
<polygon points="414.4,497.2 588.2,527.5 588.8,558.6 602.1,589.6 591.8,620.7 590.0,651.2 610.7,682.7 630.8,713.2 599.0,744.0 565.8,774.6 603.5,805.7 583.7,836.6 553.5,867.2 588.8,898.6 562.2,929.2 600.8,959.7 599.9,991.2 601.4,1022.1 581.0,1053.0 574.8,1083.6 556.8,1114.7 562.2,1145.3 577.5,1176.4 576.6,1207.3 601.4,1238.2 560.4,1269.3 564.9,1300.2 574.8,1330.8 542.8,1362.2 568.5,1392.8 594.5,1423.7 571.2,1454.3 583.7,1485.4 557.7,1516.5 590.9,1547.4 591.3,1577.7 643.1,1609.2 609.8,1640.1 754.5,1640.1 755.0,1609.2 755.4,1577.7 755.9,1547.4 755.4,1516.5 756.3,1485.4 756.3,1454.3 755.9,1423.7 749.1,1392.8 750.0,1362.2 752.4,1330.8 753.2,1300.2 751.8,1269.3 756.3,1238.2 740.5,1207.3 747.3,1176.4 750.9,1145.3 749.1,1114.7 745.5,1083.6 742.8,1053.0 721.3,1022.1 748.2,991.2 755.0,959.7 753.6,929.2 747.7,898.6 756.3,867.2 751.5,836.6 754.1,805.7 755.0,774.6 756.8,744.0 756.3,713.2 756.7,682.7 750.0,651.2 751.8,620.7 743.7,589.6 750.9,558.6 732.9,527.5 414.4,497.2" fill="#9bb0fb" stroke="none"/>
<polygon points="414.4,497.2 732.9,527.5 750.9,558.6 743.7,589.6 751.8,620.7 750.0,651.2 756.7,682.7 756.3,713.2 756.8,744.0 755.0,774.6 754.1,805.7 751.5,836.6 756.3,867.2 747.7,898.6 753.6,929.2 755.0,959.7 748.2,991.2 721.3,1022.1 742.8,1053.0 745.5,1083.6 749.1,1114.7 750.9,1145.3 747.3,1176.4 740.5,1207.3 756.3,1238.2 751.8,1269.3 753.2,1300.2 752.4,1330.8 750.0,1362.2 749.1,1392.8 755.9,1423.7 756.3,1454.3 756.3,1485.4 755.4,1516.5 755.9,1547.4 755.4,1577.7 755.0,1609.2 754.5,1640.1 754.9,1640.1 755.4,1609.2 755.8,1577.7 756.3,1547.4 755.8,1516.5 756.7,1485.4 756.7,1454.3 756.3,1423.7 749.5,1392.8 750.4,1362.2 752.7,1330.8 753.6,1300.2 752.2,1269.3 756.7,1238.2 740.8,1207.3 747.7,1176.4 751.3,1145.3 749.5,1114.7 745.9,1083.6 743.4,1053.0 732.6,1022.1 749.5,991.2 755.4,959.7 754.5,929.2 750.0,898.6 756.7,867.2 752.7,836.6 754.5,805.7 755.4,774.6 757.2,744.0 756.7,713.2 757.0,682.7 751.8,651.2 752.2,620.7 744.1,589.6 751.3,558.6 736.5,527.5 414.4,497.2" fill="#aaf0f8" stroke="none"/>
<polygon points="414.4,497.2 736.5,527.5 751.3,558.6 744.1,589.6 752.2,620.7 751.8,651.2 757.0,682.7 756.7,713.2 757.2,744.0 755.4,774.6 754.5,805.7 752.7,836.6 756.7,867.2 750.0,898.6 754.5,929.2 755.4,959.7 749.5,991.2 732.6,1022.1 743.4,1053.0 745.9,1083.6 749.5,1114.7 751.3,1145.3 747.7,1176.4 740.8,1207.3 756.7,1238.2 752.2,1269.3 753.6,1300.2 752.7,1330.8 750.4,1362.2 749.5,1392.8 756.3,1423.7 756.7,1454.3 756.7,1485.4 755.8,1516.5 756.3,1547.4 755.8,1577.7 755.4,1609.2 754.9,1640.1 757.7,1640.1 757.7,1609.2 757.7,1577.7 757.7,1547.4 757.7,1516.5 757.7,1485.4 757.7,1454.3 757.7,1423.7 757.7,1392.8 757.7,1362.2 757.7,1330.8 757.7,1300.2 757.7,1269.3 757.7,1238.2 757.7,1207.3 757.7,1176.4 757.7,1145.3 757.7,1114.7 757.7,1083.6 757.7,1053.0 757.7,1022.1 757.7,991.2 757.7,959.7 757.7,929.2 757.7,898.6 757.7,867.2 757.7,836.6 757.7,805.7 757.7,774.6 757.7,744.0 757.7,713.2 757.7,682.7 757.7,651.2 757.7,620.7 757.7,589.6 757.7,558.6 757.7,527.5 414.4,497.2" fill="#fad67e" stroke="none"/>
<polyline points="414.4,497.2 502.9,527.5 556.4,558.6 537.9,589.6 547.8,620.7 550.5,651.2 567.6,682.7 545.1,713.2 546.0,744.0 505.0,774.6 572.1,805.7 525.9,836.6 535.2,867.2 537.0,898.6 537.0,929.2 564.0,959.7 542.4,991.2 520.8,1022.1 560.4,1053.0 533.1,1083.6 540.6,1114.7 528.0,1145.3 564.0,1176.4 550.5,1207.3 542.4,1238.2 538.8,1269.3 544.2,1300.2 559.5,1330.8 528.0,1362.2 533.4,1392.8 570.3,1423.7 518.7,1454.3 555.0,1485.4 522.6,1516.5 559.5,1547.4 515.4,1577.7 576.2,1609.2 581.6,1640.1" fill="none" stroke="#4d3d2c" stroke-width="1.3" stroke-linejoin="round"/>
<polyline points="414.4,497.2 530.7,527.5 557.1,558.6 554.6,589.6 551.4,620.7 560.0,651.2 578.3,682.7 579.2,713.2 553.2,744.0 519.0,774.6 574.8,805.7 543.3,836.6 536.1,867.2 564.0,898.6 542.4,929.2 577.5,959.7 569.4,991.2 569.0,1022.1 567.9,1053.0 553.2,1083.6 541.5,1114.7 542.4,1145.3 568.5,1176.4 570.3,1207.3 587.3,1238.2 552.8,1269.3 557.7,1300.2 569.0,1330.8 536.1,1362.2 540.6,1392.8 572.1,1423.7 530.7,1454.3 564.9,1485.4 534.8,1516.5 563.1,1547.4 524.4,1577.7 593.6,1609.2 586.4,1640.1" fill="none" stroke="#4d3d2c" stroke-width="1.3" stroke-linejoin="round"/>
<polyline points="414.4,497.2 578.3,527.5 575.7,558.6 591.3,589.6 590.6,620.7 586.4,651.2 609.8,682.7 607.1,713.2 580.1,744.0 549.2,774.6 582.8,805.7 558.6,836.6 548.7,867.2 570.3,898.6 550.5,929.2 578.7,959.7 584.6,991.2 575.7,1022.1 569.0,1053.0 562.2,1083.6 544.2,1114.7 547.8,1145.3 570.3,1176.4 576.2,1207.3 600.8,1238.2 557.7,1269.3 563.1,1300.2 572.1,1330.8 542.0,1362.2 568.5,1392.8 594.5,1423.7 571.2,1454.3 583.7,1485.4 557.7,1516.5 590.9,1547.4 591.3,1577.7 643.1,1609.2 609.8,1640.1" fill="none" stroke="#4d3d2c" stroke-width="1.3" stroke-linejoin="round"/>
<polyline points="414.4,497.2 588.2,527.5 588.8,558.6 602.1,589.6 591.8,620.7 590.0,651.2 610.7,682.7 630.8,713.2 599.0,744.0 565.8,774.6 603.5,805.7 583.7,836.6 553.5,867.2 588.8,898.6 562.2,929.2 600.8,959.7 599.9,991.2 601.4,1022.1 581.0,1053.0 574.8,1083.6 556.8,1114.7 562.2,1145.3 577.5,1176.4 576.6,1207.3 601.4,1238.2 560.4,1269.3 564.9,1300.2 574.8,1330.8 542.8,1362.2 568.5,1392.8 594.5,1423.7 571.2,1454.3 583.7,1485.4 557.7,1516.5 590.9,1547.4 591.3,1577.7 643.1,1609.2 609.8,1640.1" fill="none" stroke="#4d3d2c" stroke-width="1.3" stroke-linejoin="round"/>
<polyline points="414.4,497.2 732.9,527.5 750.9,558.6 743.7,589.6 751.8,620.7 750.0,651.2 756.7,682.7 756.3,713.2 756.8,744.0 755.0,774.6 754.1,805.7 751.5,836.6 756.3,867.2 747.7,898.6 753.6,929.2 755.0,959.7 748.2,991.2 721.3,1022.1 742.8,1053.0 745.5,1083.6 749.1,1114.7 750.9,1145.3 747.3,1176.4 740.5,1207.3 756.3,1238.2 751.8,1269.3 753.2,1300.2 752.4,1330.8 750.0,1362.2 749.1,1392.8 755.9,1423.7 756.3,1454.3 756.3,1485.4 755.4,1516.5 755.9,1547.4 755.4,1577.7 755.0,1609.2 754.5,1640.1" fill="none" stroke="#4d3d2c" stroke-width="1.3" stroke-linejoin="round"/>
<polyline points="414.4,497.2 736.5,527.5 751.3,558.6 744.1,589.6 752.2,620.7 751.8,651.2 757.0,682.7 756.7,713.2 757.2,744.0 755.4,774.6 754.5,805.7 752.7,836.6 756.7,867.2 750.0,898.6 754.5,929.2 755.4,959.7 749.5,991.2 732.6,1022.1 743.4,1053.0 745.9,1083.6 749.5,1114.7 751.3,1145.3 747.7,1176.4 740.8,1207.3 756.7,1238.2 752.2,1269.3 753.6,1300.2 752.7,1330.8 750.4,1362.2 749.5,1392.8 756.3,1423.7 756.7,1454.3 756.7,1485.4 755.8,1516.5 756.3,1547.4 755.8,1577.7 755.4,1609.2 754.9,1640.1" fill="none" stroke="#4d3d2c" stroke-width="1.3" stroke-linejoin="round"/>
<polyline points="414.4,497.2 757.7,527.5 757.7,558.6 757.7,589.6 757.7,620.7 757.7,651.2 757.7,682.7 757.7,713.2 757.7,744.0 757.7,774.6 757.7,805.7 757.7,836.6 757.7,867.2 757.7,898.6 757.7,929.2 757.7,959.7 757.7,991.2 757.7,1022.1 757.7,1053.0 757.7,1083.6 757.7,1114.7 757.7,1145.3 757.7,1176.4 757.7,1207.3 757.7,1238.2 757.7,1269.3 757.7,1300.2 757.7,1330.8 757.7,1362.2 757.7,1392.8 757.7,1423.7 757.7,1454.3 757.7,1485.4 757.7,1516.5 757.7,1547.4 757.7,1577.7 757.7,1609.2 757.7,1640.1" fill="none" stroke="#b9a27a" stroke-width="0.8" stroke-linejoin="round"/>
<line x1="414.4" y1="403" x2="414.4" y2="498" stroke="#1a1a1a" stroke-width="1.3"/>
<line x1="414.4" y1="156.6" x2="414.4" y2="1640" stroke="#b98ab8" stroke-width="0.8"/>
<line x1="414.4" y1="156.6" x2="414.4" y2="1640" stroke="#666" stroke-opacity="0.11" stroke-width="2.4"/>
<line x1="448.7" y1="156.6" x2="448.7" y2="1640" stroke="#666" stroke-opacity="0.11" stroke-width="2.4"/>
<line x1="483.1" y1="156.6" x2="483.1" y2="1640" stroke="#666" stroke-opacity="0.11" stroke-width="2.4"/>
<line x1="517.4" y1="156.6" x2="517.4" y2="1640" stroke="#666" stroke-opacity="0.11" stroke-width="2.4"/>
<line x1="551.8" y1="156.6" x2="551.8" y2="1640" stroke="#666" stroke-opacity="0.11" stroke-width="2.4"/>
<line x1="586.1" y1="156.6" x2="586.1" y2="1640" stroke="#666" stroke-opacity="0.11" stroke-width="2.4"/>
<line x1="620.4" y1="156.6" x2="620.4" y2="1640" stroke="#666" stroke-opacity="0.11" stroke-width="2.4"/>
<line x1="654.8" y1="156.6" x2="654.8" y2="1640" stroke="#666" stroke-opacity="0.11" stroke-width="2.4"/>
<line x1="689.1" y1="156.6" x2="689.1" y2="1640" stroke="#666" stroke-opacity="0.11" stroke-width="2.4"/>
<line x1="723.5" y1="156.6" x2="723.5" y2="1640" stroke="#666" stroke-opacity="0.11" stroke-width="2.4"/>
<line x1="757.8" y1="156.6" x2="757.8" y2="1640" stroke="#666" stroke-opacity="0.11" stroke-width="2.4"/>
<rect x="400.2" y="143.1" width="370.4" height="1510.2" fill="none" stroke="#000" stroke-width="2.3"/>
<text x="417.5" y="137.6" font-size="20" text-anchor="middle">0</text>
<text x="481.7" y="137.6" font-size="20" text-anchor="middle">20</text>
<text x="550.8" y="137.6" font-size="20" text-anchor="middle">40</text>
<text x="617.7" y="137.6" font-size="20" text-anchor="middle">60</text>
<text x="684.9" y="137.6" font-size="20" text-anchor="middle">80</text>
<text x="756.3" y="137.6" font-size="20" text-anchor="middle">100</text>
</g>
<g id="pe">
<polygon points="826.8,167.0 896.0,167.0 953.0,190.3 927.1,221.4 864.9,267.2 919.8,296.6 887.3,316.5 871.8,349.3 873.2,363.1 862.3,390.8 794.0,390.4 818.2,363.1 819.9,330.3 852.8,296.6 832.0,265.5 849.3,221.4 861.4,190.3" fill="#a6d48f"/>
<polygon points="792.3,548.5 799.2,578.8 794.0,615.0 786.2,647.9 787.1,675.5 795.7,678.1 796.6,678.1 796.6,675.5 803.5,658.2 798.3,648.7 819.9,613.3 817.3,578.8 822.0,548.5" fill="#a6d48f"/>
<polygon points="818.2,703.2 809.6,715.3 809.6,736.0 812.2,749.8 816.5,770.6 825.1,794.8 789.7,812.8 809.6,849.1 807.0,862.9 805.2,901.0 812.2,928.6 809.6,952.8 800.9,1009.8 800.1,1025.4 802.6,1060.0 803.5,1111.8 795.7,1151.6 785.4,1181.0 786.1,1340.0 787.0,1376.9 789.7,1376.9 791.6,1340.0 792.3,1187.9 802.6,1172.3 820.8,1149.9 822.5,1111.8 822.5,1060.0 823.4,1023.7 844.1,1006.4 883.5,970.1 844.1,965.8 825.1,959.7 837.2,928.6 819.1,895.8 826.8,861.2 819.9,837.0 833.8,797.3 835.5,794.8 844.1,784.4 833.8,749.8 828.6,736.0 826.8,715.3 826.8,703.2" fill="#a6d48f"/>
<polyline points="861.1,164.0 877.0,190.3 886.5,226.6 851.0,266.3 889.9,296.6 845.9,329.4 845.9,363.1 805.2,395.9" fill="none" stroke="#00a04e" stroke-width="2.3"/>
<polyline points="805.8,545.9 811.6,583.1 808.7,615.0 791.4,647.9 794.9,656.5 792.3,678.1 825.1,694.5 824.3,720.5 820.8,729.1 821.7,736.0 827.7,765.4 836.3,789.6 826.8,796.5 813.0,844.8 822.0,861.2 810.9,894.9 827.7,928.6 820.3,954.5 834.6,967.5 813.0,1025.4 814.7,1060.0 815.6,1111.8 804.4,1151.6 797.5,1165.4 788.8,1187.9 788.0,1215.5 789.7,1250.1 788.8,1282.9 791.4,1301.9 788.8,1376.9 788.3,1450.6 787.5,1542.8 790.7,1574.1 787.9,1639.5" fill="none" stroke="#00a04e" stroke-width="2.2"/>
<polygon points="794.9,167.0 826.8,167.0 947.8,190.3 824.3,225.7 816.5,264.6 888.2,295.7 886.5,329.4 976.3,363.1 861.4,390.8 792.3,390.8 904.6,363.1 828.6,323.4 830.3,295.7 795.7,263.7 790.6,228.3 820.8,188.6" fill="#fda5a5"/>
<polygon points="848.4,548.5 814.4,582.2 836.9,614.2 837.2,647.9 819.6,659.1 830.3,675.5 823.4,699.7 821.3,713.5 828.6,729.1 797.1,763.7 802.6,789.6 797.5,807.6 793.1,828.4 792.3,862.9 794.0,894.1 787.1,928.6 809.6,959.7 786.2,970.1 783.6,1021.9 792.3,1060.0 788.0,1092.0 792.3,1111.8 783.6,1150.7 791.4,1187.9 797.5,1215.5 792.3,1246.6 793.1,1282.9 788.0,1320.9 790.6,1348.6 826.6,1373.2 818.3,1408.2 852.4,1438.6 810.9,1479.2 822.0,1513.3 823.8,1542.8 900.3,1574.1 874.5,1601.8 863.5,1611.0 820.2,1636.8 835.8,1639.5 885.6,1614.7 896.7,1603.6 927.1,1575.9 849.7,1544.6 838.6,1513.3 828.5,1480.1 872.7,1439.5 837.7,1410.0 849.7,1374.1 799.2,1348.6 796.6,1320.9 806.1,1282.9 806.1,1246.6 826.0,1214.7 804.4,1187.9 795.7,1156.8 802.6,1110.1 794.9,1092.0 806.1,1059.1 789.7,1025.4 809.6,1001.2 833.8,970.1 818.2,958.0 794.0,928.6 807.8,890.6 801.8,862.9 819.9,837.0 832.9,812.0 821.7,791.3 809.6,763.7 845.9,735.1 855.4,721.3 850.2,697.1 863.5,677.3 861.4,656.5 884.2,643.6 879.6,618.5 835.5,582.2 903.7,549.0" fill="#fda5a5"/>
<line x1="844.7" y1="143" x2="844.7" y2="1653" stroke="#8c8c8c" stroke-opacity="0.75" stroke-width="1.1"/><line x1="907.4" y1="143" x2="907.4" y2="1653" stroke="#8c8c8c" stroke-opacity="0.75" stroke-width="1.1"/><line x1="969.9" y1="143" x2="969.9" y2="1653" stroke="#8c8c8c" stroke-opacity="0.75" stroke-width="1.1"/>
<polyline points="802.6,164.7 872.6,188.6 800.9,225.7 802.6,267.2 856.2,295.7 853.6,329.4 942.6,363.1 783.6,395.9" fill="none" stroke="#e00505" stroke-width="2.6" stroke-linejoin="miter"/>
<polyline points="878.3,546.3 819.6,582.2 855.9,614.2 858.8,647.9 836.3,657.4 845.9,678.1 836.3,699.7 835.5,713.5 842.7,730.0 800.9,763.7 812.2,790.4 809.6,812.0 796.6,862.9 799.2,894.1 788.5,928.6 814.7,961.5 795.7,967.5 784.5,1025.4 799.2,1059.1 788.5,1092.0 796.1,1112.7 784.5,1150.7 794.4,1187.9 809.6,1215.5 795.7,1246.6 798.8,1282.9 790.6,1320.9 793.1,1348.6 838.0,1372.3 827.5,1409.7 862.6,1439.5 818.9,1478.2 831.2,1513.3 835.8,1544.6 913.2,1575.0 885.6,1601.8 875.5,1611.0 828.5,1639.5" fill="none" stroke="#e00505" stroke-width="2.6"/>
<rect x="782.3" y="142.9" width="216.8" height="1510.5" fill="none" stroke="#000" stroke-width="2.2"/>
<line x1="782.3" y1="143" x2="782.3" y2="137.2" stroke="#000" stroke-width="1.5"/>
<line x1="813.6" y1="143" x2="813.6" y2="137.2" stroke="#000" stroke-width="1.5"/>
<line x1="844.8" y1="143" x2="844.8" y2="137.2" stroke="#000" stroke-width="1.5"/>
<line x1="876.1" y1="143" x2="876.1" y2="137.2" stroke="#000" stroke-width="1.5"/>
<line x1="907.4" y1="143" x2="907.4" y2="137.2" stroke="#000" stroke-width="1.5"/>
<line x1="938.6" y1="143" x2="938.6" y2="137.2" stroke="#000" stroke-width="1.5"/>
<line x1="969.9" y1="143" x2="969.9" y2="137.2" stroke="#000" stroke-width="1.5"/>
<text x="783.6" y="128.3" font-size="20" text-anchor="middle">0</text>
<text x="843.8" y="128.3" font-size="20" text-anchor="middle">10</text>
<text x="907.4" y="128.3" font-size="20" text-anchor="middle">20</text>
<text x="970.4" y="128.3" font-size="20" text-anchor="middle">30</text>
</g>
<g>
<line x1="1189.9" y1="157" x2="1189.9" y2="1639.5" stroke="#bcbcbc" stroke-width="1.3"/>
<line x1="1373.1" y1="157" x2="1373.1" y2="1639.5" stroke="#bcbcbc" stroke-width="1.3"/>
<line x1="1556.5" y1="157" x2="1556.5" y2="1639.5" stroke="#bcbcbc" stroke-width="1.3"/>
<line x1="1753" y1="157" x2="1753" y2="1639.5" stroke="#bcbcbc" stroke-width="1.3"/>
<line x1="1936.5" y1="157" x2="1936.5" y2="1639.5" stroke="#bcbcbc" stroke-width="1.3"/>
</g>
<rect x="98" y="736.2" width="2006" height="641.2" fill="#4a6ae8" fill-opacity="0.14"/>
<g clip-path="url(#gclip)"><g fill="#062b10"><circle cx="108.3" cy="151.3" r="1.9"/><circle cx="146.5" cy="154.0" r="1.9"/><line x1="154.4" y1="164.7" x2="163.0" y2="164.2" stroke="#062b10" stroke-width="1.7"/><line x1="98.0" y1="165.9" x2="102.5" y2="166.5" stroke="#062b10" stroke-width="1.7"/><circle cx="150.9" cy="178.4" r="1.9"/><circle cx="110.3" cy="183.6" r="1.9"/><circle cx="130.2" cy="188.6" r="1.9"/><circle cx="144.9" cy="214.4" r="1.9"/><circle cx="120.6" cy="225.1" r="1.9"/><circle cx="126.4" cy="245.6" r="1.9"/><circle cx="110.6" cy="256.2" r="1.9"/><circle cx="156.1" cy="263.5" r="1.9"/><circle cx="135.9" cy="269.6" r="1.9"/><circle cx="117.3" cy="278.5" r="1.9"/><circle cx="148.0" cy="286.0" r="1.9"/><circle cx="100.8" cy="308.6" r="1.9"/><circle cx="133.3" cy="308.6" r="1.9"/><circle cx="115.2" cy="325.1" r="1.9"/><circle cx="153.8" cy="327.8" r="1.9"/><circle cx="139.2" cy="339.7" r="1.9"/><circle cx="161.9" cy="346.6" r="1.9"/><circle cx="125.2" cy="353.2" r="1.9"/><circle cx="108.9" cy="355.3" r="1.9"/><circle cx="141.9" cy="365.7" r="1.9"/><circle cx="157.8" cy="369.7" r="1.9"/><circle cx="125.8" cy="389.0" r="1.9"/><circle cx="115.2" cy="404.7" r="1.9"/><circle cx="156.7" cy="405.4" r="1.9"/><circle cx="138.8" cy="408.9" r="1.9"/><circle cx="128.5" cy="427.3" r="1.9"/><circle cx="153.6" cy="430.4" r="1.9"/><circle cx="110.3" cy="443.3" r="1.9"/><circle cx="158.8" cy="450.4" r="1.9"/><circle cx="124.8" cy="452.9" r="1.9"/><circle cx="109.2" cy="468.8" r="1.9"/><circle cx="151.2" cy="472.7" r="1.9"/><circle cx="108.3" cy="489.0" r="1.9"/><circle cx="126.4" cy="487.5" r="1.9"/><circle cx="146.5" cy="491.7" r="1.9"/><circle cx="127.3" cy="170.6" r="4.9" fill="none" stroke="#062b10" stroke-width="1.9"/><circle cx="148.0" cy="241.2" r="4.9" fill="none" stroke="#062b10" stroke-width="1.9"/><circle cx="111.8" cy="374.6" r="4.9" fill="none" stroke="#062b10" stroke-width="1.9"/><circle cx="140.0" cy="438.5" r="4.9" fill="none" stroke="#062b10" stroke-width="1.9"/><circle cx="98.0" cy="202.0" r="3.4" fill="none" stroke="#062b10" stroke-width="1.9"/><circle cx="98.0" cy="468.1" r="3.4" fill="none" stroke="#062b10" stroke-width="1.9"/><line x1="112.3" y1="209.5" x2="143.4" y2="201.5" stroke="#062b10" stroke-width="1.7"/><line x1="98.0" y1="244.6" x2="110.6" y2="239.3" stroke="#062b10" stroke-width="1.7"/><line x1="98.0" y1="291.7" x2="129.0" y2="295.0" stroke="#062b10" stroke-width="1.7"/><line x1="98.0" y1="337.4" x2="114.6" y2="339.1" stroke="#062b10" stroke-width="1.7"/><line x1="129.0" y1="381.5" x2="160.7" y2="389.5" stroke="#062b10" stroke-width="1.7"/><line x1="98.0" y1="421.6" x2="111.8" y2="418.9" stroke="#062b10" stroke-width="1.7"/><line x1="123.8" y1="465.8" x2="159.0" y2="458.9" stroke="#062b10" stroke-width="1.7"/><line x1="154.4" y1="502.4" x2="163.0" y2="501.9" stroke="#062b10" stroke-width="1.7"/><line x1="98.0" y1="503.6" x2="102.5" y2="504.2" stroke="#062b10" stroke-width="1.7"/><path d="M163.6 296.1 C150 295.4 144 302.4 146.5 308.4 C148 314.4 154 321.4 163.6 320.9" fill="none" stroke="#062b10" stroke-width="1.7"/><circle cx="150.9" cy="516.1" r="1.9"/><circle cx="110.3" cy="521.3" r="1.9"/><circle cx="130.2" cy="526.3" r="1.9"/><circle cx="144.9" cy="552.1" r="1.9"/><circle cx="120.6" cy="562.8" r="1.9"/><circle cx="126.4" cy="583.3" r="1.9"/><circle cx="110.6" cy="593.9" r="1.9"/><circle cx="156.1" cy="601.2" r="1.9"/><circle cx="135.9" cy="607.3" r="1.9"/><circle cx="117.3" cy="616.2" r="1.9"/><circle cx="148.0" cy="623.7" r="1.9"/><circle cx="100.8" cy="646.3" r="1.9"/><circle cx="133.3" cy="646.3" r="1.9"/><circle cx="115.2" cy="662.8" r="1.9"/><circle cx="153.8" cy="665.5" r="1.9"/><circle cx="139.2" cy="677.4" r="1.9"/><circle cx="161.9" cy="684.3" r="1.9"/><circle cx="125.2" cy="690.9" r="1.9"/><circle cx="108.9" cy="693.0" r="1.9"/><circle cx="141.9" cy="703.4" r="1.9"/><circle cx="157.8" cy="707.4" r="1.9"/><circle cx="125.8" cy="726.7" r="1.9"/><circle cx="115.2" cy="742.4" r="1.9"/><circle cx="156.7" cy="743.1" r="1.9"/><circle cx="138.8" cy="746.6" r="1.9"/><circle cx="128.5" cy="765.0" r="1.9"/><circle cx="153.6" cy="768.1" r="1.9"/><circle cx="110.3" cy="781.0" r="1.9"/><circle cx="158.8" cy="788.1" r="1.9"/><circle cx="124.8" cy="790.6" r="1.9"/><circle cx="109.2" cy="806.5" r="1.9"/><circle cx="151.2" cy="810.4" r="1.9"/><circle cx="108.3" cy="826.7" r="1.9"/><circle cx="126.4" cy="825.2" r="1.9"/><circle cx="146.5" cy="829.4" r="1.9"/><circle cx="127.3" cy="508.3" r="4.9" fill="none" stroke="#062b10" stroke-width="1.9"/><circle cx="148.0" cy="578.9" r="4.9" fill="none" stroke="#062b10" stroke-width="1.9"/><circle cx="111.8" cy="712.3" r="4.9" fill="none" stroke="#062b10" stroke-width="1.9"/><circle cx="140.0" cy="776.2" r="4.9" fill="none" stroke="#062b10" stroke-width="1.9"/><circle cx="98.0" cy="539.7" r="3.4" fill="none" stroke="#062b10" stroke-width="1.9"/><circle cx="98.0" cy="805.8" r="3.4" fill="none" stroke="#062b10" stroke-width="1.9"/><line x1="112.3" y1="547.2" x2="143.4" y2="539.2" stroke="#062b10" stroke-width="1.7"/><line x1="98.0" y1="582.3" x2="110.6" y2="577.0" stroke="#062b10" stroke-width="1.7"/><line x1="98.0" y1="629.4" x2="129.0" y2="632.7" stroke="#062b10" stroke-width="1.7"/><line x1="98.0" y1="675.1" x2="114.6" y2="676.8" stroke="#062b10" stroke-width="1.7"/><line x1="129.0" y1="719.2" x2="160.7" y2="727.2" stroke="#062b10" stroke-width="1.7"/><line x1="98.0" y1="759.3" x2="111.8" y2="756.6" stroke="#062b10" stroke-width="1.7"/><line x1="123.8" y1="803.5" x2="159.0" y2="796.6" stroke="#062b10" stroke-width="1.7"/><line x1="154.4" y1="840.1" x2="163.0" y2="839.6" stroke="#062b10" stroke-width="1.7"/><line x1="98.0" y1="841.3" x2="102.5" y2="841.9" stroke="#062b10" stroke-width="1.7"/><path d="M163.6 633.8 C150 633.1 144 640.1 146.5 646.1 C148 652.1 154 659.1 163.6 658.6" fill="none" stroke="#062b10" stroke-width="1.7"/><circle cx="150.9" cy="853.8" r="1.9"/><circle cx="110.3" cy="859.0" r="1.9"/><circle cx="130.2" cy="864.0" r="1.9"/><circle cx="144.9" cy="889.8" r="1.9"/><circle cx="120.6" cy="900.5" r="1.9"/><circle cx="126.4" cy="921.0" r="1.9"/><circle cx="110.6" cy="931.6" r="1.9"/><circle cx="156.1" cy="938.9" r="1.9"/><circle cx="135.9" cy="945.0" r="1.9"/><circle cx="117.3" cy="953.9" r="1.9"/><circle cx="148.0" cy="961.4" r="1.9"/><circle cx="100.8" cy="984.0" r="1.9"/><circle cx="133.3" cy="984.0" r="1.9"/><circle cx="115.2" cy="1000.5" r="1.9"/><circle cx="153.8" cy="1003.2" r="1.9"/><circle cx="139.2" cy="1015.1" r="1.9"/><circle cx="161.9" cy="1022.0" r="1.9"/><circle cx="125.2" cy="1028.6" r="1.9"/><circle cx="108.9" cy="1030.7" r="1.9"/><circle cx="141.9" cy="1041.1" r="1.9"/><circle cx="157.8" cy="1045.1" r="1.9"/><circle cx="125.8" cy="1064.4" r="1.9"/><circle cx="115.2" cy="1080.1" r="1.9"/><circle cx="156.7" cy="1080.8" r="1.9"/><circle cx="138.8" cy="1084.3" r="1.9"/><circle cx="128.5" cy="1102.7" r="1.9"/><circle cx="153.6" cy="1105.8" r="1.9"/><circle cx="110.3" cy="1118.7" r="1.9"/><circle cx="158.8" cy="1125.8" r="1.9"/><circle cx="124.8" cy="1128.3" r="1.9"/><circle cx="109.2" cy="1144.2" r="1.9"/><circle cx="151.2" cy="1148.1" r="1.9"/><circle cx="108.3" cy="1164.4" r="1.9"/><circle cx="126.4" cy="1162.9" r="1.9"/><circle cx="146.5" cy="1167.1" r="1.9"/><circle cx="127.3" cy="846.0" r="4.9" fill="none" stroke="#062b10" stroke-width="1.9"/><circle cx="148.0" cy="916.6" r="4.9" fill="none" stroke="#062b10" stroke-width="1.9"/><circle cx="111.8" cy="1050.0" r="4.9" fill="none" stroke="#062b10" stroke-width="1.9"/><circle cx="140.0" cy="1113.9" r="4.9" fill="none" stroke="#062b10" stroke-width="1.9"/><circle cx="98.0" cy="877.4" r="3.4" fill="none" stroke="#062b10" stroke-width="1.9"/><circle cx="98.0" cy="1143.5" r="3.4" fill="none" stroke="#062b10" stroke-width="1.9"/><line x1="112.3" y1="884.9" x2="143.4" y2="876.9" stroke="#062b10" stroke-width="1.7"/><line x1="98.0" y1="920.0" x2="110.6" y2="914.7" stroke="#062b10" stroke-width="1.7"/><line x1="98.0" y1="967.1" x2="129.0" y2="970.4" stroke="#062b10" stroke-width="1.7"/><line x1="98.0" y1="1012.8" x2="114.6" y2="1014.5" stroke="#062b10" stroke-width="1.7"/><line x1="129.0" y1="1056.9" x2="160.7" y2="1064.9" stroke="#062b10" stroke-width="1.7"/><line x1="98.0" y1="1097.0" x2="111.8" y2="1094.3" stroke="#062b10" stroke-width="1.7"/><line x1="123.8" y1="1141.2" x2="159.0" y2="1134.3" stroke="#062b10" stroke-width="1.7"/><line x1="154.4" y1="1177.8" x2="163.0" y2="1177.3" stroke="#062b10" stroke-width="1.7"/><line x1="98.0" y1="1179.0" x2="102.5" y2="1179.6" stroke="#062b10" stroke-width="1.7"/><path d="M163.6 971.5 C150 970.8 144 977.8 146.5 983.8 C148 989.8 154 996.8 163.6 996.3" fill="none" stroke="#062b10" stroke-width="1.7"/><circle cx="150.9" cy="1191.5" r="1.9"/><circle cx="110.3" cy="1196.7" r="1.9"/><circle cx="130.2" cy="1201.7" r="1.9"/><circle cx="144.9" cy="1227.5" r="1.9"/><circle cx="120.6" cy="1238.2" r="1.9"/><circle cx="126.4" cy="1258.7" r="1.9"/><circle cx="110.6" cy="1269.3" r="1.9"/><circle cx="156.1" cy="1276.6" r="1.9"/><circle cx="135.9" cy="1282.7" r="1.9"/><circle cx="117.3" cy="1291.6" r="1.9"/><circle cx="148.0" cy="1299.1" r="1.9"/><circle cx="100.8" cy="1321.7" r="1.9"/><circle cx="133.3" cy="1321.7" r="1.9"/><circle cx="115.2" cy="1338.2" r="1.9"/><circle cx="153.8" cy="1340.9" r="1.9"/><circle cx="139.2" cy="1352.8" r="1.9"/><circle cx="161.9" cy="1359.7" r="1.9"/><circle cx="125.2" cy="1366.3" r="1.9"/><circle cx="108.9" cy="1368.4" r="1.9"/><circle cx="141.9" cy="1378.8" r="1.9"/><circle cx="157.8" cy="1382.8" r="1.9"/><circle cx="125.8" cy="1402.1" r="1.9"/><circle cx="115.2" cy="1417.8" r="1.9"/><circle cx="156.7" cy="1418.5" r="1.9"/><circle cx="138.8" cy="1422.0" r="1.9"/><circle cx="128.5" cy="1440.4" r="1.9"/><circle cx="153.6" cy="1443.5" r="1.9"/><circle cx="110.3" cy="1456.4" r="1.9"/><circle cx="158.8" cy="1463.5" r="1.9"/><circle cx="124.8" cy="1466.0" r="1.9"/><circle cx="109.2" cy="1481.9" r="1.9"/><circle cx="151.2" cy="1485.8" r="1.9"/><circle cx="108.3" cy="1502.1" r="1.9"/><circle cx="126.4" cy="1500.6" r="1.9"/><circle cx="146.5" cy="1504.8" r="1.9"/><circle cx="127.3" cy="1183.7" r="4.9" fill="none" stroke="#062b10" stroke-width="1.9"/><circle cx="148.0" cy="1254.3" r="4.9" fill="none" stroke="#062b10" stroke-width="1.9"/><circle cx="111.8" cy="1387.7" r="4.9" fill="none" stroke="#062b10" stroke-width="1.9"/><circle cx="140.0" cy="1451.6" r="4.9" fill="none" stroke="#062b10" stroke-width="1.9"/><circle cx="98.0" cy="1215.1" r="3.4" fill="none" stroke="#062b10" stroke-width="1.9"/><circle cx="98.0" cy="1481.2" r="3.4" fill="none" stroke="#062b10" stroke-width="1.9"/><line x1="112.3" y1="1222.6" x2="143.4" y2="1214.6" stroke="#062b10" stroke-width="1.7"/><line x1="98.0" y1="1257.7" x2="110.6" y2="1252.4" stroke="#062b10" stroke-width="1.7"/><line x1="98.0" y1="1304.8" x2="129.0" y2="1308.1" stroke="#062b10" stroke-width="1.7"/><line x1="98.0" y1="1350.5" x2="114.6" y2="1352.2" stroke="#062b10" stroke-width="1.7"/><line x1="129.0" y1="1394.6" x2="160.7" y2="1402.6" stroke="#062b10" stroke-width="1.7"/><line x1="98.0" y1="1434.7" x2="111.8" y2="1432.0" stroke="#062b10" stroke-width="1.7"/><line x1="123.8" y1="1478.9" x2="159.0" y2="1472.0" stroke="#062b10" stroke-width="1.7"/><line x1="154.4" y1="1515.5" x2="163.0" y2="1515.0" stroke="#062b10" stroke-width="1.7"/><line x1="98.0" y1="1516.7" x2="102.5" y2="1517.3" stroke="#062b10" stroke-width="1.7"/><path d="M163.6 1309.2 C150 1308.5 144 1315.5 146.5 1321.5 C148 1327.5 154 1334.5 163.6 1334.0" fill="none" stroke="#062b10" stroke-width="1.7"/><circle cx="150.9" cy="1529.2" r="1.9"/><circle cx="110.3" cy="1534.4" r="1.9"/><circle cx="130.2" cy="1539.4" r="1.9"/><circle cx="144.9" cy="1565.2" r="1.9"/><circle cx="120.6" cy="1575.9" r="1.9"/><circle cx="126.4" cy="1596.4" r="1.9"/><circle cx="110.6" cy="1607.0" r="1.9"/><circle cx="156.1" cy="1614.3" r="1.9"/><circle cx="135.9" cy="1620.4" r="1.9"/><circle cx="117.3" cy="1629.3" r="1.9"/><circle cx="148.0" cy="1636.8" r="1.9"/><circle cx="127.3" cy="1521.4" r="4.9" fill="none" stroke="#062b10" stroke-width="1.9"/><circle cx="148.0" cy="1592.0" r="4.9" fill="none" stroke="#062b10" stroke-width="1.9"/><circle cx="98.0" cy="1552.8" r="3.4" fill="none" stroke="#062b10" stroke-width="1.9"/><line x1="112.3" y1="1560.3" x2="143.4" y2="1552.3" stroke="#062b10" stroke-width="1.7"/><line x1="98.0" y1="1595.4" x2="110.6" y2="1590.1" stroke="#062b10" stroke-width="1.7"/><line x1="98.0" y1="1642.5" x2="129.0" y2="1645.8" stroke="#062b10" stroke-width="1.7"/></g></g>
<line x1="98.0" y1="153.6" x2="98.0" y2="1643.0" stroke="#000" stroke-width="1.9"/>
<line x1="163.0" y1="153.6" x2="163.0" y2="1643.0" stroke="#000" stroke-width="1.9"/>
<line x1="98.0" y1="956.0" x2="163.0" y2="956.0" stroke="#000" stroke-width="1.5"/>
<line x1="98.0" y1="970.2" x2="163.0" y2="970.2" stroke="#000" stroke-width="1.5"/>
<line x1="98.0" y1="1191.7" x2="163.0" y2="1191.7" stroke="#000" stroke-width="1.5"/>
<line x1="98.0" y1="1231.1" x2="163.0" y2="1231.1" stroke="#000" stroke-width="1.5"/>
<line x1="132.0" y1="956.0" x2="132.0" y2="970.2" stroke="#222" stroke-width="1.3"/>
<line x1="132.0" y1="1191.7" x2="132.0" y2="1231.1" stroke="#222" stroke-width="1.3"/>
<line x1="163.0" y1="736.5" x2="206.8" y2="736.5" stroke="#222" stroke-width="1.2"/>
<line x1="163.0" y1="1377.4" x2="206.8" y2="1377.4" stroke="#222" stroke-width="1.2"/>
<g fill="none" stroke="#000"><rect x="225.7" y="143.3" width="158.4" height="1510.7" stroke-width="2.3"/><rect x="400.2" y="143.1" width="370.4" height="1510.2" stroke-width="2.3"/><rect x="782.3" y="142.9" width="216.8" height="1510.5" stroke-width="2.2"/></g>
<rect x="1027.6" y="954.3" width="4.2" height="2" rx="1" fill="#fff"/>
<g>
<clipPath id="fclip"><rect x="1008.4" y="156.8" width="1097.2" height="1487.2"/></clipPath>
<rect x="1007.4" y="155.8" width="1099.2" height="1489.2" fill="none" stroke="#000" stroke-width="2.2"/>
<line x1="1007.4" y1="156" x2="1007.4" y2="142.4" stroke="#000" stroke-width="1.8"/>
<line x1="1190" y1="156" x2="1190" y2="142.4" stroke="#000" stroke-width="1.8"/>
<line x1="1373.2" y1="156" x2="1373.2" y2="142.4" stroke="#000" stroke-width="1.8"/>
<line x1="1556.5" y1="156" x2="1556.5" y2="142.4" stroke="#000" stroke-width="1.8"/>
<line x1="1740.3" y1="156" x2="1740.3" y2="142.4" stroke="#000" stroke-width="1.8"/>
<line x1="1923" y1="156" x2="1923" y2="142.4" stroke="#000" stroke-width="1.8"/>
<line x1="2106.6" y1="156" x2="2106.6" y2="142.4" stroke="#000" stroke-width="1.8"/>
<g clip-path="url(#fclip)"><g transform="scale(1,2.1)"><polyline points="1034.3,75.57 1059.8,80.38 1058.7,105.86 1068.9,122.86 1081.5,137.05 1091.1,141.14 1053.5,141.14 1045.8,170.29 1071.0,184.62" fill="none" stroke="#e8701a" stroke-width="1.9" stroke-linejoin="round" stroke-linecap="round"/></g></g>
<g clip-path="url(#fclip)"><g transform="scale(1,2.1)"><polyline points="1061.7,287.81 1043.3,305.19 1045.3,332.86 1069.1,347.90 1099.6,365.81 1080.9,406.29 1087.2,442.95 1327.3,466.76 1449.9,527.38 2078.6,620.57 1228.5,685.95 1108.9,743.67 1076.0,771.24" fill="none" stroke="#e8701a" stroke-width="1.9" stroke-linejoin="round" stroke-linecap="round"/></g></g>
<ellipse cx="1034.3" cy="158.7" rx="6.3" ry="7.4" fill="#e8701a"/>
<ellipse cx="1059.8" cy="168.8" rx="6.3" ry="7.4" fill="#e8701a"/>
<ellipse cx="1058.7" cy="222.3" rx="6.3" ry="7.4" fill="#e8701a"/>
<ellipse cx="1068.9" cy="258.0" rx="6.3" ry="7.4" fill="#e8701a"/>
<ellipse cx="1081.5" cy="287.8" rx="6.3" ry="7.4" fill="#e8701a"/>
<ellipse cx="1091.1" cy="296.4" rx="6.3" ry="7.4" fill="#e8701a"/>
<ellipse cx="1053.5" cy="296.4" rx="6.3" ry="7.4" fill="#e8701a"/>
<ellipse cx="1045.8" cy="357.6" rx="6.3" ry="7.4" fill="#e8701a"/>
<ellipse cx="1071.0" cy="387.7" rx="6.3" ry="7.4" fill="#e8701a"/>
<ellipse cx="1061.7" cy="604.4" rx="6.3" ry="7.4" fill="#e8701a"/>
<ellipse cx="1043.3" cy="640.9" rx="6.3" ry="7.4" fill="#e8701a"/>
<ellipse cx="1045.3" cy="699.0" rx="6.3" ry="7.4" fill="#e8701a"/>
<ellipse cx="1069.1" cy="730.6" rx="6.3" ry="7.4" fill="#e8701a"/>
<ellipse cx="1099.6" cy="768.2" rx="6.3" ry="7.4" fill="#e8701a"/>
<ellipse cx="1080.9" cy="853.2" rx="6.3" ry="7.4" fill="#e8701a"/>
<ellipse cx="1087.2" cy="930.2" rx="6.3" ry="7.4" fill="#e8701a"/>
<ellipse cx="1327.3" cy="980.2" rx="6.3" ry="7.4" fill="#e8701a"/>
<ellipse cx="1449.9" cy="1107.5" rx="6.3" ry="7.4" fill="#e8701a"/>
<ellipse cx="2078.6" cy="1303.2" rx="6.3" ry="7.4" fill="#e8701a"/>
<ellipse cx="1228.5" cy="1440.5" rx="6.3" ry="7.4" fill="#e8701a"/>
<ellipse cx="1108.9" cy="1561.7" rx="6.3" ry="7.4" fill="#e8701a"/>
<ellipse cx="1076.0" cy="1619.6" rx="6.3" ry="7.4" fill="#e8701a"/>
<g clip-path="url(#fclip)"><g transform="scale(1,2.1)"><polyline points="1102.9,75.57 1046.6,80.38 1126.7,105.86 1082.9,122.86 1080.4,137.05 1067.2,141.14 1085.6,141.14 1071.9,170.29 1073.0,184.62 1033.5,198.19 1063.1,287.81 1061.5,305.19 1067.2,332.86 1099.6,347.90 1045.3,365.81 1085.9,406.29 1093.3,442.95 1030.2,466.76 1052.1,527.38 1031.8,620.57 1080.9,685.95 1066.7,743.67 1063.6,771.24" fill="none" stroke="#2e8b62" stroke-width="1.9" stroke-linejoin="round" stroke-linecap="round"/></g></g>
<ellipse cx="1102.9" cy="158.7" rx="6.3" ry="7.4" fill="#2e8b62"/>
<ellipse cx="1046.6" cy="168.8" rx="6.3" ry="7.4" fill="#2e8b62"/>
<ellipse cx="1126.7" cy="222.3" rx="6.3" ry="7.4" fill="#2e8b62"/>
<ellipse cx="1082.9" cy="258.0" rx="6.3" ry="7.4" fill="#2e8b62"/>
<ellipse cx="1080.4" cy="287.8" rx="6.3" ry="7.4" fill="#2e8b62"/>
<ellipse cx="1067.2" cy="296.4" rx="6.3" ry="7.4" fill="#2e8b62"/>
<ellipse cx="1085.6" cy="296.4" rx="6.3" ry="7.4" fill="#2e8b62"/>
<ellipse cx="1071.9" cy="357.6" rx="6.3" ry="7.4" fill="#2e8b62"/>
<ellipse cx="1073.0" cy="387.7" rx="6.3" ry="7.4" fill="#2e8b62"/>
<ellipse cx="1033.5" cy="416.2" rx="6.3" ry="7.4" fill="#2e8b62"/>
<ellipse cx="1063.1" cy="604.4" rx="6.3" ry="7.4" fill="#2e8b62"/>
<ellipse cx="1061.5" cy="640.9" rx="6.3" ry="7.4" fill="#2e8b62"/>
<ellipse cx="1067.2" cy="699.0" rx="6.3" ry="7.4" fill="#2e8b62"/>
<ellipse cx="1099.6" cy="730.6" rx="6.3" ry="7.4" fill="#2e8b62"/>
<ellipse cx="1045.3" cy="768.2" rx="6.3" ry="7.4" fill="#2e8b62"/>
<ellipse cx="1085.9" cy="853.2" rx="6.3" ry="7.4" fill="#2e8b62"/>
<ellipse cx="1093.3" cy="930.2" rx="6.3" ry="7.4" fill="#2e8b62"/>
<ellipse cx="1030.2" cy="980.2" rx="6.3" ry="7.4" fill="#2e8b62"/>
<ellipse cx="1052.1" cy="1107.5" rx="6.3" ry="7.4" fill="#2e8b62"/>
<ellipse cx="1031.8" cy="1303.2" rx="6.3" ry="7.4" fill="#2e8b62"/>
<ellipse cx="1080.9" cy="1440.5" rx="6.3" ry="7.4" fill="#2e8b62"/>
<ellipse cx="1066.7" cy="1561.7" rx="6.3" ry="7.4" fill="#2e8b62"/>
<ellipse cx="1063.6" cy="1619.6" rx="6.3" ry="7.4" fill="#2e8b62"/>
<g clip-path="url(#fclip)"><g transform="scale(1,2.1)"><polyline points="1520.0,72.14 1426.6,75.57 1436.8,80.38 1354.5,105.86 1326.7,122.86 1301.8,137.05 1352.5,141.14 1308.6,141.14 1348.4,170.29 1300.4,184.62 1449.0,198.19 1342.1,287.81 1305.9,305.19 1323.2,332.86 1192.0,347.90 1213.4,365.81 1151.4,406.29 1255.7,442.95 1159.1,466.76 1142.7,527.38 1053.7,620.57 1197.0,685.95 1151.7,743.67 1203.8,771.24" fill="none" stroke="#2f74d0" stroke-width="1.9" stroke-linejoin="round" stroke-linecap="round"/></g></g>
<ellipse cx="1426.6" cy="158.7" rx="6.3" ry="7.4" fill="#2f74d0"/>
<ellipse cx="1436.8" cy="168.8" rx="6.3" ry="7.4" fill="#2f74d0"/>
<ellipse cx="1354.5" cy="222.3" rx="6.3" ry="7.4" fill="#2f74d0"/>
<ellipse cx="1326.7" cy="258.0" rx="6.3" ry="7.4" fill="#2f74d0"/>
<ellipse cx="1301.8" cy="287.8" rx="6.3" ry="7.4" fill="#2f74d0"/>
<ellipse cx="1352.5" cy="296.4" rx="6.3" ry="7.4" fill="#2f74d0"/>
<ellipse cx="1308.6" cy="296.4" rx="6.3" ry="7.4" fill="#2f74d0"/>
<ellipse cx="1348.4" cy="357.6" rx="6.3" ry="7.4" fill="#2f74d0"/>
<ellipse cx="1300.4" cy="387.7" rx="6.3" ry="7.4" fill="#2f74d0"/>
<ellipse cx="1449.0" cy="416.2" rx="6.3" ry="7.4" fill="#2f74d0"/>
<ellipse cx="1342.1" cy="604.4" rx="6.3" ry="7.4" fill="#2f74d0"/>
<ellipse cx="1305.9" cy="640.9" rx="6.3" ry="7.4" fill="#2f74d0"/>
<ellipse cx="1323.2" cy="699.0" rx="6.3" ry="7.4" fill="#2f74d0"/>
<ellipse cx="1192.0" cy="730.6" rx="6.3" ry="7.4" fill="#2f74d0"/>
<ellipse cx="1213.4" cy="768.2" rx="6.3" ry="7.4" fill="#2f74d0"/>
<ellipse cx="1151.4" cy="853.2" rx="6.3" ry="7.4" fill="#2f74d0"/>
<ellipse cx="1255.7" cy="930.2" rx="6.3" ry="7.4" fill="#2f74d0"/>
<ellipse cx="1159.1" cy="980.2" rx="6.3" ry="7.4" fill="#2f74d0"/>
<ellipse cx="1142.7" cy="1107.5" rx="6.3" ry="7.4" fill="#2f74d0"/>
<ellipse cx="1053.7" cy="1303.2" rx="6.3" ry="7.4" fill="#2f74d0"/>
<ellipse cx="1197.0" cy="1440.5" rx="6.3" ry="7.4" fill="#2f74d0"/>
<ellipse cx="1151.7" cy="1561.7" rx="6.3" ry="7.4" fill="#2f74d0"/>
<ellipse cx="1203.8" cy="1619.6" rx="6.3" ry="7.4" fill="#2f74d0"/>
<g clip-path="url(#fclip)"><g transform="scale(1,2.1)"><polyline points="1600.0,72.86 1556.0,75.57 1517.7,80.38 1633.6,105.86 1570.4,122.86 1628.7,137.05 1579.3,141.14 1568.3,141.14 1519.3,170.29 1594.4,184.62 1645.7,198.19 1601.5,287.81 1551.2,305.19 1519.3,332.86 1546.6,347.90 1711.8,365.81 1605.4,406.29 1484.2,442.95 1641.0,466.76 1535.5,527.38 1302.6,620.57 1484.2,685.95 1533.1,743.67 1617.2,771.24" fill="none" stroke="#d9ab12" stroke-width="1.9" stroke-linejoin="round" stroke-linecap="round"/></g></g>
<ellipse cx="1556.0" cy="158.7" rx="6.3" ry="7.4" fill="#d9ab12"/>
<ellipse cx="1517.7" cy="168.8" rx="6.3" ry="7.4" fill="#d9ab12"/>
<ellipse cx="1633.6" cy="222.3" rx="6.3" ry="7.4" fill="#d9ab12"/>
<ellipse cx="1570.4" cy="258.0" rx="6.3" ry="7.4" fill="#d9ab12"/>
<ellipse cx="1628.7" cy="287.8" rx="6.3" ry="7.4" fill="#d9ab12"/>
<ellipse cx="1579.3" cy="296.4" rx="6.3" ry="7.4" fill="#d9ab12"/>
<ellipse cx="1568.3" cy="296.4" rx="6.3" ry="7.4" fill="#d9ab12"/>
<ellipse cx="1519.3" cy="357.6" rx="6.3" ry="7.4" fill="#d9ab12"/>
<ellipse cx="1594.4" cy="387.7" rx="6.3" ry="7.4" fill="#d9ab12"/>
<ellipse cx="1645.7" cy="416.2" rx="6.3" ry="7.4" fill="#d9ab12"/>
<ellipse cx="1601.5" cy="604.4" rx="6.3" ry="7.4" fill="#d9ab12"/>
<ellipse cx="1551.2" cy="640.9" rx="6.3" ry="7.4" fill="#d9ab12"/>
<ellipse cx="1519.3" cy="699.0" rx="6.3" ry="7.4" fill="#d9ab12"/>
<ellipse cx="1546.6" cy="730.6" rx="6.3" ry="7.4" fill="#d9ab12"/>
<ellipse cx="1711.8" cy="768.2" rx="6.3" ry="7.4" fill="#d9ab12"/>
<ellipse cx="1605.4" cy="853.2" rx="6.3" ry="7.4" fill="#d9ab12"/>
<ellipse cx="1484.2" cy="930.2" rx="6.3" ry="7.4" fill="#d9ab12"/>
<ellipse cx="1641.0" cy="980.2" rx="6.3" ry="7.4" fill="#d9ab12"/>
<ellipse cx="1535.5" cy="1107.5" rx="6.3" ry="7.4" fill="#d9ab12"/>
<ellipse cx="1302.6" cy="1303.2" rx="6.3" ry="7.4" fill="#d9ab12"/>
<ellipse cx="1484.2" cy="1440.5" rx="6.3" ry="7.4" fill="#d9ab12"/>
<ellipse cx="1533.1" cy="1561.7" rx="6.3" ry="7.4" fill="#d9ab12"/>
<ellipse cx="1617.2" cy="1619.6" rx="6.3" ry="7.4" fill="#d9ab12"/>
<g clip-path="url(#fclip)"><g transform="scale(1,2.1)"><polyline points="1749.4,75.57 1808.4,80.38 1695.1,105.86 1820.7,122.86 1777.6,137.05 1779.0,141.14 1851.7,141.14 1882.4,170.29 1828.4,184.62 1708.5,198.19 1799.3,287.81 1906.3,305.19 1914.0,332.86 1961.2,347.90 1798.2,365.81 1944.2,406.29 1947.2,442.95 1711.3,466.76 1687.1,527.38 1402.5,620.57 1877.8,685.95 2008.1,743.67 1908.0,771.24" fill="none" stroke="#d884cc" stroke-width="1.9" stroke-linejoin="round" stroke-linecap="round"/></g></g>
<ellipse cx="1749.4" cy="158.7" rx="6.3" ry="7.4" fill="#d884cc"/>
<ellipse cx="1808.4" cy="168.8" rx="6.3" ry="7.4" fill="#d884cc"/>
<ellipse cx="1695.1" cy="222.3" rx="6.3" ry="7.4" fill="#d884cc"/>
<ellipse cx="1820.7" cy="258.0" rx="6.3" ry="7.4" fill="#d884cc"/>
<ellipse cx="1777.6" cy="287.8" rx="6.3" ry="7.4" fill="#d884cc"/>
<ellipse cx="1779.0" cy="296.4" rx="6.3" ry="7.4" fill="#d884cc"/>
<ellipse cx="1851.7" cy="296.4" rx="6.3" ry="7.4" fill="#d884cc"/>
<ellipse cx="1882.4" cy="357.6" rx="6.3" ry="7.4" fill="#d884cc"/>
<ellipse cx="1828.4" cy="387.7" rx="6.3" ry="7.4" fill="#d884cc"/>
<ellipse cx="1708.5" cy="416.2" rx="6.3" ry="7.4" fill="#d884cc"/>
<ellipse cx="1799.3" cy="604.4" rx="6.3" ry="7.4" fill="#d884cc"/>
<ellipse cx="1906.3" cy="640.9" rx="6.3" ry="7.4" fill="#d884cc"/>
<ellipse cx="1914.0" cy="699.0" rx="6.3" ry="7.4" fill="#d884cc"/>
<ellipse cx="1961.2" cy="730.6" rx="6.3" ry="7.4" fill="#d884cc"/>
<ellipse cx="1798.2" cy="768.2" rx="6.3" ry="7.4" fill="#d884cc"/>
<ellipse cx="1944.2" cy="853.2" rx="6.3" ry="7.4" fill="#d884cc"/>
<ellipse cx="1947.2" cy="930.2" rx="6.3" ry="7.4" fill="#d884cc"/>
<ellipse cx="1711.3" cy="980.2" rx="6.3" ry="7.4" fill="#d884cc"/>
<ellipse cx="1687.1" cy="1107.5" rx="6.3" ry="7.4" fill="#d884cc"/>
<ellipse cx="1402.5" cy="1303.2" rx="6.3" ry="7.4" fill="#d884cc"/>
<ellipse cx="1877.8" cy="1440.5" rx="6.3" ry="7.4" fill="#d884cc"/>
<ellipse cx="2008.1" cy="1561.7" rx="6.3" ry="7.4" fill="#d884cc"/>
<ellipse cx="1908.0" cy="1619.6" rx="6.3" ry="7.4" fill="#d884cc"/>
<text x="1008.2" y="139.7" font-size="22" text-anchor="middle">0</text>
<text x="1190.2" y="139.7" font-size="22" text-anchor="middle">10</text>
<text x="1373.8" y="139.7" font-size="22" text-anchor="middle">20</text>
<text x="1556.8" y="139.7" font-size="22" text-anchor="middle">30</text>
<text x="1739.9" y="139.7" font-size="22" text-anchor="middle">40</text>
<text x="1923.5" y="139.7" font-size="22" text-anchor="middle">50</text>
<text x="2106.6" y="139.7" font-size="22" text-anchor="middle">60</text>
<rect x="1910" y="174.3" width="39.6" height="42.8" fill="#e8701a" stroke="#000" stroke-width="1.3"/>
<text x="1969.2" y="201.7" font-size="22" style="color:#d9772a;stroke-width:0.15px">Smectite</text>
<rect x="1910" y="226.4" width="39.6" height="42.8" fill="#2e8b62" stroke="#000" stroke-width="1.3"/>
<text x="1972" y="252.5" font-size="22" style="color:#2e8b62;stroke-width:0.15px">Kaolinite</text>
<rect x="1910" y="278" width="39.6" height="42.8" fill="#2f74d0" stroke="#000" stroke-width="1.3"/>
<text x="1972.8" y="286.8" font-size="22" style="color:#3a70c0;stroke-width:0.15px">Mixed layer</text>
<text x="1972.8" y="312.8" font-size="22" style="color:#3a70c0;stroke-width:0.15px">minerals</text>
<rect x="1910" y="330.1" width="39.6" height="42.8" fill="#d9ab12" stroke="#000" stroke-width="1.3"/>
<text x="1973.9" y="356.7" font-size="22" style="color:#b59a1e;stroke-width:0.15px">Chlorite</text>
<rect x="1910" y="382.2" width="39.6" height="42.8" fill="#d884cc" stroke="#000" stroke-width="1.3"/>
<text x="1972" y="408.9" font-size="22" style="color:#d98bcf;stroke-width:0.15px">Illite</text>
</g>
<polyline points="98.5,412.4 99.3,411.2 100.1,410.3 100.9,409.8 101.7,409.8 102.5,410.4 103.3,411.4 104.1,412.6 104.9,413.7 105.7,414.6 106.5,415.1 107.3,415.0 108.1,414.3 108.9,413.3 109.7,412.1 110.5,410.9 111.3,410.1 112.1,409.7 112.9,409.9 113.7,410.6 114.5,411.7 115.3,412.9 116.1,414.0 116.9,414.8 117.7,415.1 118.5,414.8 119.3,414.1 120.1,413.0 120.9,411.7 121.7,410.6 122.5,409.9 123.3,409.7 124.1,410.0 124.9,410.9 125.7,412.0 126.5,413.2 127.3,414.3 128.1,414.9 128.9,415.1 129.7,414.7 130.5,413.8 131.3,412.6 132.2,411.4 133.0,410.4 133.8,409.8 134.6,409.7 135.4,410.2 136.2,411.1 137.0,412.3 137.8,413.5 138.6,414.5 139.4,415.0 140.2,415.0 141.0,414.5 141.8,413.5 142.6,412.3 143.4,411.1 144.2,410.2 145.0,409.7 145.8,409.8 146.6,410.4 147.4,411.5 148.2,412.7 149.0,413.8 149.8,414.7 150.6,415.1 151.4,414.9 152.2,414.2 153.0,413.2 153.8,412.0 154.6,410.8 155.4,410.0 156.2,409.7 157.0,409.9 157.8,410.7 158.6,411.8 159.4,413.0 160.2,414.1 161.0,414.9 161.8,415.1 162.6,414.8 163.4,414.0 164.2,412.9 165.0,411.6" fill="none" stroke="#f01818" stroke-width="3.7" stroke-linejoin="round" stroke-linecap="round"/>
<polyline points="97.5,736.3 98.3,735.1 99.1,734.2 99.9,733.7 100.7,733.7 101.5,734.3 102.3,735.3 103.1,736.5 103.9,737.7 104.7,738.6 105.5,739.0 106.3,738.8 107.1,738.2 107.9,737.1 108.8,735.9 109.6,734.8 110.4,733.9 111.2,733.6 112.0,733.8 112.8,734.6 113.6,735.6 114.4,736.9 115.2,738.0 116.0,738.7 116.8,739.0 117.6,738.7 118.4,737.9 119.2,736.8 120.0,735.5 120.8,734.5 121.6,733.8 122.4,733.6 123.2,734.0 124.0,734.9 124.8,736.0 125.6,737.2 126.4,738.3 127.2,738.9 128.0,739.0 128.8,738.5 129.6,737.6 130.4,736.4 131.2,735.2 132.1,734.2 132.9,733.7 133.7,733.7 134.5,734.2 135.3,735.2 136.1,736.4 136.9,737.6 137.7,738.5 138.5,739.0 139.3,738.9 140.1,738.2 140.9,737.2 141.7,736.0 142.5,734.8 143.3,734.0 144.1,733.6 144.9,733.8 145.7,734.5 146.5,735.6 147.3,736.8 148.1,737.9 148.9,738.7 149.7,739.0 150.5,738.7 151.3,738.0 152.1,736.8 152.9,735.6 153.8,734.5 154.6,733.8 155.4,733.6 156.2,734.0 157.0,734.8 157.8,735.9 158.6,737.2 159.4,738.2 160.2,738.9 161.0,739.0 161.8,738.5 162.6,737.6 163.4,736.5 164.2,735.3 165.0,734.3" fill="none" stroke="#f01818" stroke-width="3.7" stroke-linejoin="round" stroke-linecap="round"/>
<polyline points="97.0,1377.6 97.8,1376.4 98.6,1375.4 99.4,1374.9 100.2,1375.0 101.0,1375.6 101.8,1376.6 102.7,1377.8 103.5,1379.0 104.3,1379.9 105.1,1380.3 105.9,1380.1 106.7,1379.4 107.5,1378.4 108.3,1377.1 109.1,1376.0 109.9,1375.2 110.7,1374.9 111.5,1375.2 112.3,1375.9 113.1,1377.1 114.0,1378.3 114.8,1379.4 115.6,1380.1 116.4,1380.3 117.2,1379.9 118.0,1379.1 118.8,1377.9 119.6,1376.7 120.4,1375.7 121.2,1375.0 122.0,1374.9 122.8,1375.4 123.6,1376.3 124.4,1377.5 125.3,1378.7 126.1,1379.7 126.9,1380.2 127.7,1380.2 128.5,1379.7 129.3,1378.7 130.1,1377.5 130.9,1376.3 131.7,1375.4 132.5,1374.9 133.3,1375.0 134.1,1375.7 134.9,1376.8 135.7,1378.0 136.6,1379.1 137.4,1380.0 138.2,1380.3 139.0,1380.1 139.8,1379.3 140.6,1378.2 141.4,1377.0 142.2,1375.9 143.0,1375.1 143.8,1374.9 144.6,1375.2 145.4,1376.1 146.2,1377.2 147.0,1378.4 147.9,1379.5 148.7,1380.1 149.5,1380.3 150.3,1379.8 151.1,1378.9 151.9,1377.8 152.7,1376.6 153.5,1375.6 154.3,1375.0 155.1,1375.0 155.9,1375.5 156.7,1376.5 157.5,1377.7 158.3,1378.9 159.2,1379.8 160.0,1380.3 160.8,1380.2 161.6,1379.6 162.4,1378.5 163.2,1377.3 164.0,1376.1" fill="none" stroke="#f01818" stroke-width="3.7" stroke-linejoin="round" stroke-linecap="round"/>
<text x="21" y="411.4" font-size="22.5" font-weight="bold" style="color:#e8141a" textLength="71" lengthAdjust="spacingAndGlyphs">RSU4a</text>
<text x="50.3" y="740.8" font-size="22.5" font-weight="bold" style="color:#e8141a" textLength="38.5" lengthAdjust="spacingAndGlyphs">D-b</text>
<text x="29.6" y="1392" font-size="22.5" font-weight="bold" style="color:#e8141a" textLength="60" lengthAdjust="spacingAndGlyphs">RSU5</text>
<g id="hdr">
<text x="126.2" y="27.9" font-size="30" text-anchor="middle" font-weight="bold" style="stroke-width:0.3px" textLength="21.6" lengthAdjust="spacingAndGlyphs">a</text>
<text x="188.8" y="27.9" font-size="30" text-anchor="middle" font-weight="bold" style="stroke-width:0.3px" textLength="22.8" lengthAdjust="spacingAndGlyphs">b</text>
<text x="304.4" y="26.2" font-size="30" text-anchor="middle" font-weight="bold" style="stroke-width:0.3px" textLength="20.6" lengthAdjust="spacingAndGlyphs">c</text>
<text x="580" y="25.8" font-size="30" text-anchor="middle" font-weight="bold" style="stroke-width:0.3px" textLength="22.8" lengthAdjust="spacingAndGlyphs">d</text>
<text x="886.4" y="25.9" font-size="30" text-anchor="middle" font-weight="bold" style="stroke-width:0.3px" textLength="21.8" lengthAdjust="spacingAndGlyphs">e</text>
<text x="1547.6" y="35.8" font-size="32" text-anchor="middle" font-weight="bold" style="stroke-width:0.3px">f</text>
<text transform="translate(121.8,44) rotate(90)" font-size="22" textLength="100.5" lengthAdjust="spacingAndGlyphs">Lithology</text>
<text transform="translate(182.5,42.6) rotate(90)" font-size="22" textLength="108.5" lengthAdjust="spacingAndGlyphs">Sequence</text>
<text x="9.6" y="93.3" font-size="22" textLength="66" lengthAdjust="spacingAndGlyphs">Depth</text>
<text x="9.2" y="121.2" font-size="22" textLength="74.5" lengthAdjust="spacingAndGlyphs">(mbsf)</text>
<text x="312.6" y="64" font-size="22" text-anchor="middle" textLength="188.5" lengthAdjust="spacingAndGlyphs">Clast Abundance</text>
<text x="312.3" y="91.4" font-size="22" text-anchor="middle" textLength="115.5" lengthAdjust="spacingAndGlyphs">(clasts/m)</text>
<text x="582.4" y="64.2" font-size="22" text-anchor="middle" textLength="166.5" lengthAdjust="spacingAndGlyphs">Clast Lithology</text>
<text x="582.4" y="91.7" font-size="22" text-anchor="middle" textLength="183" lengthAdjust="spacingAndGlyphs">Distribution (%)</text>
<text x="887.4" y="60.9" font-size="22" text-anchor="middle" style="color:#cd2030;stroke-width:0.15px" textLength="204.5" lengthAdjust="spacingAndGlyphs">Dolerite/Total (%)</text>
<text x="886.7" y="93.7" font-size="22" text-anchor="middle" style="color:#22996a;stroke-width:0.15px" textLength="207" lengthAdjust="spacingAndGlyphs">Volcanic/Total (%)</text>
<text x="1559.1" y="92" font-size="26.4" text-anchor="middle" textLength="244.5" lengthAdjust="spacingAndGlyphs">Clay minerology (%)</text>
</g>
<g id="leg">
<rect x="14" y="1670" width="36.6" height="26.5" fill="#c1da3a" stroke="#4c5a10" stroke-width="1.2"/>
<line x1="28.9" y1="1675" x2="37.5" y2="1675" stroke="#6f8d12" stroke-width="1.5"/>
<line x1="25" y1="1680.2" x2="35.9" y2="1680.2" stroke="#6f8d12" stroke-width="1.5"/>
<line x1="28.9" y1="1685.9" x2="37.5" y2="1685.9" stroke="#6f8d12" stroke-width="1.5"/>
<line x1="20.3" y1="1691.7" x2="30.4" y2="1691.7" stroke="#6f8d12" stroke-width="1.5"/>
<ellipse cx="16.6" cy="1675" rx="3" ry="1.9" fill="none" stroke="#6f8d12" stroke-width="1.3"/>
<ellipse cx="46.6" cy="1680.2" rx="3.6" ry="1.9" fill="none" stroke="#6f8d12" stroke-width="1.3"/>
<ellipse cx="16.6" cy="1685.9" rx="3" ry="1.9" fill="none" stroke="#6f8d12" stroke-width="1.3"/>
<ellipse cx="41.4" cy="1691.7" rx="5" ry="1.9" fill="none" stroke="#6f8d12" stroke-width="1.3"/>
<rect x="14" y="1711.9" width="36.6" height="26" fill="#22b83f" stroke="#0c5a1c" stroke-width="1.2"/>
<circle cx="18" cy="1716" r="0.95" fill="#0e7a22"/>
<circle cx="24" cy="1719" r="0.95" fill="#0e7a22"/>
<circle cx="31" cy="1715.5" r="0.95" fill="#0e7a22"/>
<circle cx="38" cy="1717" r="0.95" fill="#0e7a22"/>
<circle cx="45" cy="1716" r="0.95" fill="#0e7a22"/>
<circle cx="47" cy="1722" r="0.95" fill="#0e7a22"/>
<circle cx="20" cy="1724" r="0.95" fill="#0e7a22"/>
<circle cx="27" cy="1726" r="0.95" fill="#0e7a22"/>
<circle cx="35" cy="1722.5" r="0.95" fill="#0e7a22"/>
<circle cx="42" cy="1729" r="0.95" fill="#0e7a22"/>
<circle cx="18" cy="1731" r="0.95" fill="#0e7a22"/>
<circle cx="25" cy="1734" r="0.95" fill="#0e7a22"/>
<circle cx="33" cy="1733" r="0.95" fill="#0e7a22"/>
<circle cx="40" cy="1735" r="0.95" fill="#0e7a22"/>
<circle cx="47" cy="1733" r="0.95" fill="#0e7a22"/>
<circle cx="22" cy="1729" r="0.95" fill="#0e7a22"/>
<circle cx="30" cy="1729.5" r="0.95" fill="#0e7a22"/>
<line x1="35" y1="1726.5" x2="45" y2="1728" stroke="#0b5a1a" stroke-width="1.2"/>
<line x1="26" y1="1714.5" x2="29" y2="1718" stroke="#0b5a1a" stroke-width="1.1"/>
<rect x="264.8" y="1668.3" width="37" height="26.8" fill="#f6ed72" stroke="#7a7a48" stroke-width="1.1"/>
<line x1="281" y1="1669.9" x2="288" y2="1669.9" stroke="#b5ac48" stroke-width="1.1"/>
<line x1="268" y1="1678.4" x2="272" y2="1678.4" stroke="#b5ac48" stroke-width="1.1"/>
<line x1="279.5" y1="1692.4" x2="287" y2="1692.4" stroke="#b5ac48" stroke-width="1.1"/>
<line x1="299.5" y1="1680.8" x2="301.5" y2="1680.8" stroke="#b5ac48" stroke-width="1.1"/>
<rect x="264.8" y="1709.4" width="37" height="25.8" fill="#7f7f7f" stroke="#444" stroke-width="1.1"/>
<line x1="267.5" y1="1715.1" x2="300" y2="1715.1" stroke="#3a3a3a" stroke-width="1.5" stroke-dasharray="2 2.5 13 2.5 2 2.5"/>
<line x1="269.5" y1="1721.3" x2="300" y2="1721.3" stroke="#3a3a3a" stroke-width="1.5" stroke-dasharray="2 2.5 13 2.5 2 2.5"/>
<line x1="267.5" y1="1727.6" x2="300" y2="1727.6" stroke="#3a3a3a" stroke-width="1.5" stroke-dasharray="2 2.5 13 2.5 2 2.5"/>
<line x1="269.5" y1="1733.4" x2="300" y2="1733.4" stroke="#3a3a3a" stroke-width="1.5" stroke-dasharray="2 2.5 13 2.5 2 2.5"/>
<text x="61.8" y="1690.6" font-size="22.8" textLength="55.5" lengthAdjust="spacingAndGlyphs" class="ar">Chert</text>
<text x="61.8" y="1731.8" font-size="22.8" textLength="178.5" lengthAdjust="spacingAndGlyphs" class="ar">Diamict/Diamictite</text>
<text x="313.1" y="1678.6" font-size="22.8" textLength="201.5" lengthAdjust="spacingAndGlyphs" class="ar">Diatom-bearing/rich,</text>
<text x="313.1" y="1700" font-size="22.8" textLength="89.5" lengthAdjust="spacingAndGlyphs" class="ar">diatomite</text>
<text x="313.1" y="1728.6" font-size="22.8" textLength="146.5" lengthAdjust="spacingAndGlyphs" class="ar">Mud/Mudstone</text>
<rect x="545.9" y="1673.6" width="17" height="17" fill="#fcbbfa" stroke="#c99ac8" stroke-width="1.1"/>
<text x="571.3" y="1689" font-size="24" textLength="153.5" lengthAdjust="spacingAndGlyphs" class="ar">intrusive rocks</text>
<rect x="749.5" y="1673.6" width="17" height="17" fill="#9ee965" stroke="#7cb853" stroke-width="1.1"/>
<text x="774.2" y="1689" font-size="24" textLength="91" lengthAdjust="spacingAndGlyphs" class="ar">dolerites</text>
<rect x="895.6" y="1673.6" width="17" height="17" fill="#9bb0fb" stroke="#8296d8" stroke-width="1.1"/>
<text x="919.4" y="1689" font-size="24" textLength="203.5" lengthAdjust="spacingAndGlyphs" class="ar">metamorphic rocks</text>
<rect x="1145.4" y="1673.6" width="17" height="17" fill="#fad67e" stroke="#c9ab62" stroke-width="1.1"/>
<text x="1170.8" y="1689" font-size="24" textLength="96" lengthAdjust="spacingAndGlyphs" class="ar">intraclast</text>
<rect x="577.2" y="1703.9" width="17" height="17" fill="#f9ab62" stroke="#c98a52" stroke-width="1.1"/>
<text x="602" y="1719.3" font-size="24" textLength="180.5" lengthAdjust="spacingAndGlyphs" class="ar">quartz fragments</text>
<rect x="799.5" y="1703.9" width="17" height="17" fill="#fbea6b" stroke="#c8bb5a" stroke-width="1.1"/>
<text x="824.8" y="1719.3" font-size="24" textLength="151.5" lengthAdjust="spacingAndGlyphs" class="ar">volcanic rocks</text>
<rect x="994.6" y="1703.9" width="17" height="17" fill="#aaf0f8" stroke="#8bc3c9" stroke-width="1.1"/>
<text x="1018.7" y="1719.3" font-size="24" textLength="195" lengthAdjust="spacingAndGlyphs" class="ar">sedimentary rocks</text>
</g>
</svg></body></html>
